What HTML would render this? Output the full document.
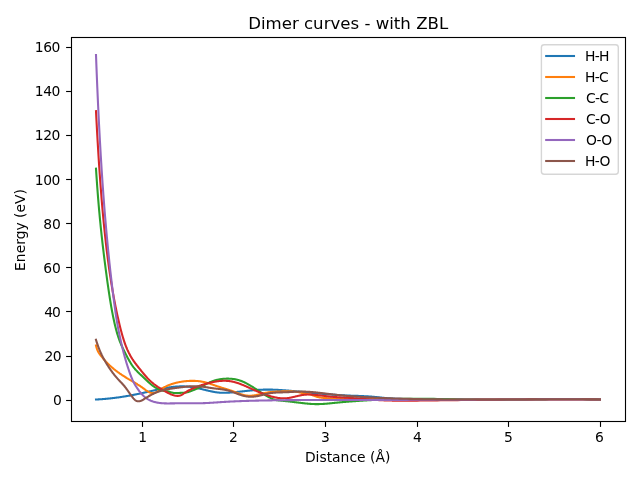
<!DOCTYPE html>
<html lang="en"><head><meta charset="utf-8"><title>Dimer curves - with ZBL</title>
<style>html,body{margin:0;padding:0;background:#fff;width:640px;height:480px;overflow:hidden}svg{display:block}text{font-family:'DejaVu Sans', 'Liberation Sans', sans-serif;fill:#000}</style></head><body>
<svg width="640" height="480" viewBox="0 0 640 480">
<rect x="0" y="0" width="640" height="480" fill="#fff"/>
<g fill="none" stroke-width="2.083" stroke-linecap="square" stroke-linejoin="round">
<path d="M96.00 399.51 L96.43 399.49 L96.87 399.47 L97.30 399.44 L97.74 399.42 L98.17 399.39 L98.61 399.37 L99.04 399.34 L99.48 399.32 L99.91 399.29 L100.35 399.26 L100.78 399.23 L101.22 399.20 L101.65 399.17 L102.09 399.14 L102.52 399.10 L102.96 399.07 L103.39 399.04 L103.83 399.00 L104.26 398.97 L104.70 398.93 L105.13 398.89 L105.57 398.85 L106.00 398.82 L106.44 398.78 L106.87 398.73 L107.31 398.69 L107.74 398.65 L108.18 398.61 L108.61 398.57 L109.05 398.52 L109.48 398.48 L109.92 398.43 L110.35 398.38 L110.79 398.34 L111.22 398.29 L111.66 398.24 L112.09 398.19 L112.53 398.14 L112.96 398.09 L113.40 398.04 L113.83 397.98 L114.27 397.93 L114.70 397.88 L115.14 397.82 L115.57 397.77 L116.01 397.71 L116.44 397.65 L116.88 397.59 L117.31 397.54 L117.75 397.48 L118.18 397.42 L118.62 397.36 L119.05 397.29 L119.48 397.23 L119.92 397.17 L120.35 397.11 L120.79 397.04 L121.22 396.98 L121.66 396.91 L122.09 396.84 L122.53 396.78 L122.96 396.71 L123.40 396.64 L123.83 396.57 L124.27 396.50 L124.70 396.43 L125.14 396.36 L125.57 396.29 L126.01 396.21 L126.44 396.14 L126.88 396.07 L127.31 395.99 L127.75 395.92 L128.18 395.84 L128.62 395.76 L129.05 395.69 L129.49 395.61 L129.92 395.53 L130.36 395.45 L130.79 395.37 L131.23 395.29 L131.66 395.21 L132.10 395.13 L132.53 395.04 L132.97 394.96 L133.40 394.88 L133.84 394.79 L134.27 394.71 L134.71 394.62 L135.14 394.54 L135.58 394.45 L136.01 394.36 L136.45 394.28 L136.88 394.19 L137.32 394.10 L137.75 394.01 L138.19 393.92 L138.62 393.83 L139.06 393.74 L139.49 393.65 L139.93 393.56 L140.36 393.47 L140.80 393.37 L141.23 393.28 L141.67 393.19 L142.10 393.09 L142.54 393.00 L142.97 392.90 L143.40 392.81 L143.84 392.71 L144.27 392.62 L144.71 392.52 L145.14 392.43 L145.58 392.33 L146.01 392.23 L146.45 392.13 L146.88 392.04 L147.32 391.94 L147.75 391.84 L148.19 391.74 L148.62 391.64 L149.06 391.55 L149.49 391.45 L149.93 391.35 L150.36 391.25 L150.80 391.15 L151.23 391.05 L151.67 390.95 L152.10 390.85 L152.54 390.75 L152.97 390.66 L153.41 390.56 L153.84 390.46 L154.28 390.36 L154.71 390.26 L155.15 390.17 L155.58 390.07 L156.02 389.97 L156.45 389.87 L156.89 389.78 L157.32 389.68 L157.76 389.59 L158.19 389.49 L158.63 389.40 L159.06 389.31 L159.50 389.21 L159.93 389.12 L160.37 389.03 L160.80 388.94 L161.24 388.85 L161.67 388.76 L162.11 388.67 L162.54 388.59 L162.98 388.50 L163.41 388.42 L163.85 388.33 L164.28 388.25 L164.72 388.17 L165.15 388.09 L165.59 388.01 L166.02 387.93 L166.45 387.85 L166.89 387.78 L167.32 387.71 L167.76 387.63 L168.19 387.56 L168.63 387.49 L169.06 387.43 L169.50 387.36 L169.93 387.30 L170.37 387.24 L170.80 387.17 L171.24 387.12 L171.67 387.06 L172.11 387.00 L172.54 386.95 L172.98 386.90 L173.41 386.85 L173.85 386.81 L174.28 386.76 L174.72 386.72 L175.15 386.68 L175.59 386.64 L176.02 386.61 L176.46 386.57 L176.89 386.54 L177.33 386.51 L177.76 386.49 L178.20 386.46 L178.63 386.44 L179.07 386.43 L179.50 386.41 L179.94 386.40 L180.37 386.39 L180.81 386.38 L181.24 386.37 L181.68 386.37 L182.11 386.37 L182.55 386.37 L182.98 386.38 L183.42 386.39 L183.85 386.40 L184.29 386.41 L184.72 386.43 L185.16 386.45 L185.59 386.47 L186.03 386.50 L186.46 386.52 L186.90 386.55 L187.33 386.59 L187.77 386.62 L188.20 386.66 L188.64 386.70 L189.07 386.74 L189.51 386.79 L189.94 386.84 L190.37 386.89 L190.81 386.95 L191.24 387.00 L191.68 387.06 L192.11 387.13 L192.55 387.19 L192.98 387.26 L193.42 387.33 L193.85 387.40 L194.29 387.48 L194.72 387.56 L195.16 387.64 L195.59 387.72 L196.03 387.81 L196.46 387.89 L196.90 387.99 L197.33 388.08 L197.77 388.17 L198.20 388.27 L198.64 388.37 L199.07 388.47 L199.51 388.57 L199.94 388.67 L200.38 388.78 L200.81 388.88 L201.25 388.99 L201.68 389.10 L202.12 389.20 L202.55 389.31 L202.99 389.42 L203.42 389.53 L203.86 389.64 L204.29 389.75 L204.73 389.85 L205.16 389.96 L205.60 390.07 L206.03 390.18 L206.47 390.28 L206.90 390.39 L207.34 390.49 L207.77 390.60 L208.21 390.70 L208.64 390.80 L209.08 390.90 L209.51 391.00 L209.95 391.09 L210.38 391.19 L210.82 391.28 L211.25 391.37 L211.69 391.46 L212.12 391.55 L212.56 391.63 L212.99 391.72 L213.42 391.80 L213.86 391.88 L214.29 391.95 L214.73 392.03 L215.16 392.10 L215.60 392.16 L216.03 392.23 L216.47 392.29 L216.90 392.35 L217.34 392.41 L217.77 392.46 L218.21 392.51 L218.64 392.55 L219.08 392.60 L219.51 392.64 L219.95 392.67 L220.38 392.70 L220.82 392.73 L221.25 392.75 L221.69 392.77 L222.12 392.79 L222.56 392.80 L222.99 392.81 L223.43 392.82 L223.86 392.82 L224.30 392.82 L224.73 392.81 L225.17 392.81 L225.60 392.80 L226.04 392.78 L226.47 392.77 L226.91 392.75 L227.34 392.73 L227.78 392.71 L228.21 392.69 L228.65 392.66 L229.08 392.63 L229.52 392.60 L229.95 392.57 L230.39 392.54 L230.82 392.50 L231.26 392.47 L231.69 392.43 L232.13 392.39 L232.56 392.36 L233.00 392.32 L233.43 392.28 L233.87 392.24 L234.30 392.20 L234.74 392.15 L235.17 392.11 L235.61 392.07 L236.04 392.03 L236.47 391.98 L236.91 391.94 L237.34 391.90 L237.78 391.85 L238.21 391.81 L238.65 391.76 L239.08 391.72 L239.52 391.67 L239.95 391.62 L240.39 391.58 L240.82 391.53 L241.26 391.49 L241.69 391.44 L242.13 391.39 L242.56 391.35 L243.00 391.30 L243.43 391.25 L243.87 391.21 L244.30 391.16 L244.74 391.11 L245.17 391.07 L245.61 391.02 L246.04 390.97 L246.48 390.93 L246.91 390.88 L247.35 390.84 L247.78 390.79 L248.22 390.75 L248.65 390.70 L249.09 390.66 L249.52 390.61 L249.96 390.57 L250.39 390.53 L250.83 390.49 L251.26 390.45 L251.70 390.40 L252.13 390.36 L252.57 390.32 L253.00 390.29 L253.44 390.25 L253.87 390.21 L254.31 390.17 L254.74 390.14 L255.18 390.10 L255.61 390.07 L256.05 390.03 L256.48 390.00 L256.92 389.97 L257.35 389.94 L257.79 389.91 L258.22 389.88 L258.66 389.86 L259.09 389.83 L259.53 389.81 L259.96 389.78 L260.39 389.76 L260.83 389.74 L261.26 389.72 L261.70 389.70 L262.13 389.68 L262.57 389.67 L263.00 389.66 L263.44 389.64 L263.87 389.63 L264.31 389.62 L264.74 389.61 L265.18 389.60 L265.61 389.60 L266.05 389.59 L266.48 389.59 L266.92 389.59 L267.35 389.59 L267.79 389.59 L268.22 389.59 L268.66 389.59 L269.09 389.59 L269.53 389.60 L269.96 389.60 L270.40 389.61 L270.83 389.62 L271.27 389.63 L271.70 389.64 L272.14 389.65 L272.57 389.66 L273.01 389.67 L273.44 389.68 L273.88 389.70 L274.31 389.71 L274.75 389.73 L275.18 389.75 L275.62 389.77 L276.05 389.79 L276.49 389.81 L276.92 389.83 L277.36 389.85 L277.79 389.87 L278.23 389.90 L278.66 389.92 L279.10 389.95 L279.53 389.97 L279.97 390.00 L280.40 390.02 L280.84 390.05 L281.27 390.08 L281.71 390.11 L282.14 390.14 L282.58 390.17 L283.01 390.20 L283.44 390.23 L283.88 390.26 L284.31 390.30 L284.75 390.33 L285.18 390.36 L285.62 390.40 L286.05 390.43 L286.49 390.47 L286.92 390.50 L287.36 390.54 L287.79 390.58 L288.23 390.61 L288.66 390.65 L289.10 390.69 L289.53 390.73 L289.97 390.76 L290.40 390.80 L290.84 390.84 L291.27 390.88 L291.71 390.92 L292.14 390.96 L292.58 391.00 L293.01 391.04 L293.45 391.08 L293.88 391.12 L294.32 391.16 L294.75 391.20 L295.19 391.24 L295.62 391.28 L296.06 391.32 L296.49 391.36 L296.93 391.41 L297.36 391.45 L297.80 391.49 L298.23 391.53 L298.67 391.57 L299.10 391.61 L299.54 391.66 L299.97 391.70 L300.41 391.74 L300.84 391.78 L301.28 391.83 L301.71 391.87 L302.15 391.91 L302.58 391.95 L303.02 392.00 L303.45 392.04 L303.89 392.08 L304.32 392.13 L304.76 392.17 L305.19 392.21 L305.63 392.25 L306.06 392.30 L306.49 392.34 L306.93 392.38 L307.36 392.42 L307.80 392.47 L308.23 392.51 L308.67 392.55 L309.10 392.59 L309.54 392.64 L309.97 392.68 L310.41 392.72 L310.84 392.76 L311.28 392.81 L311.71 392.85 L312.15 392.89 L312.58 392.93 L313.02 392.97 L313.45 393.02 L313.89 393.06 L314.32 393.10 L314.76 393.14 L315.19 393.18 L315.63 393.22 L316.06 393.26 L316.50 393.30 L316.93 393.34 L317.37 393.38 L317.80 393.42 L318.24 393.46 L318.67 393.50 L319.11 393.54 L319.54 393.58 L319.98 393.62 L320.41 393.66 L320.85 393.70 L321.28 393.74 L321.72 393.78 L322.15 393.82 L322.59 393.85 L323.02 393.89 L323.46 393.93 L323.89 393.97 L324.33 394.00 L324.76 394.04 L325.20 394.08 L325.63 394.11 L326.07 394.15 L326.50 394.19 L326.94 394.22 L327.37 394.26 L327.81 394.29 L328.24 394.33 L328.68 394.36 L329.11 394.40 L329.55 394.43 L329.98 394.46 L330.41 394.50 L330.85 394.53 L331.28 394.56 L331.72 394.60 L332.15 394.63 L332.59 394.66 L333.02 394.69 L333.46 394.72 L333.89 394.75 L334.33 394.79 L334.76 394.82 L335.20 394.85 L335.63 394.88 L336.07 394.90 L336.50 394.93 L336.94 394.96 L337.37 394.99 L337.81 395.02 L338.24 395.05 L338.68 395.07 L339.11 395.10 L339.55 395.13 L339.98 395.15 L340.42 395.18 L340.85 395.20 L341.29 395.23 L341.72 395.25 L342.16 395.28 L342.59 395.30 L343.03 395.32 L343.46 395.35 L343.90 395.37 L344.33 395.39 L344.77 395.41 L345.20 395.43 L345.64 395.45 L346.07 395.47 L346.51 395.49 L346.94 395.51 L347.38 395.53 L347.81 395.55 L348.25 395.57 L348.68 395.59 L349.12 395.60 L349.55 395.62 L349.99 395.64 L350.42 395.65 L350.86 395.67 L351.29 395.68 L351.73 395.70 L352.16 395.71 L352.60 395.73 L353.03 395.74 L353.46 395.76 L353.90 395.77 L354.33 395.78 L354.77 395.80 L355.20 395.81 L355.64 395.83 L356.07 395.84 L356.51 395.85 L356.94 395.87 L357.38 395.88 L357.81 395.90 L358.25 395.91 L358.68 395.93 L359.12 395.94 L359.55 395.96 L359.99 395.97 L360.42 395.99 L360.86 396.01 L361.29 396.02 L361.73 396.04 L362.16 396.06 L362.60 396.08 L363.03 396.10 L363.47 396.12 L363.90 396.15 L364.34 396.17 L364.77 396.19 L365.21 396.21 L365.64 396.24 L366.08 396.26 L366.51 396.29 L366.95 396.32 L367.38 396.35 L367.82 396.37 L368.25 396.40 L368.69 396.43 L369.12 396.46 L369.56 396.49 L369.99 396.53 L370.43 396.56 L370.86 396.59 L371.30 396.63 L371.73 396.66 L372.17 396.70 L372.60 396.73 L373.04 396.77 L373.47 396.81 L373.91 396.85 L374.34 396.89 L374.78 396.93 L375.21 396.97 L375.65 397.01 L376.08 397.05 L376.52 397.10 L376.95 397.14 L377.38 397.18 L377.82 397.23 L378.25 397.27 L378.69 397.32 L379.12 397.36 L379.56 397.41 L379.99 397.45 L380.43 397.50 L380.86 397.54 L381.30 397.59 L381.73 397.63 L382.17 397.68 L382.60 397.72 L383.04 397.77 L383.47 397.81 L383.91 397.85 L384.34 397.90 L384.78 397.94 L385.21 397.98 L385.65 398.02 L386.08 398.06 L386.52 398.10 L386.95 398.13 L387.39 398.17 L387.82 398.21 L388.26 398.24 L388.69 398.27 L389.13 398.31 L389.56 398.34 L390.00 398.37 L390.43 398.40 L390.87 398.43 L391.30 398.46 L391.74 398.49 L392.17 398.51 L392.61 398.54 L393.04 398.56 L393.48 398.59 L393.91 398.61 L394.35 398.63 L394.78 398.66 L395.22 398.68 L395.65 398.70 L396.09 398.72 L396.52 398.74 L396.96 398.76 L397.39 398.78 L397.83 398.79 L398.26 398.81 L398.70 398.83 L399.13 398.84 L399.57 398.86 L400.00 398.88 L403.39 398.98 L406.78 399.07 L410.16 399.14 L413.55 399.20 L416.94 399.26 L420.33 399.31 L423.72 399.36 L427.11 399.41 L430.49 399.44 L433.88 399.48 L437.27 399.51 L440.66 399.53 L444.05 399.55 L447.43 399.57 L450.82 399.58 L454.21 399.59 L457.60 399.60 L460.99 399.60 L464.37 399.61 L467.76 399.60 L471.15 399.60 L474.54 399.60 L477.93 399.59 L481.32 399.58 L484.70 399.57 L488.09 399.55 L491.48 399.54 L494.87 399.52 L498.26 399.51 L501.64 399.49 L505.03 399.47 L508.42 399.45 L511.81 399.43 L515.20 399.41 L518.58 399.39 L521.97 399.38 L525.36 399.36 L528.75 399.34 L532.14 399.32 L535.53 399.31 L538.91 399.29 L542.30 399.28 L545.69 399.27 L549.08 399.26 L552.47 399.25 L555.85 399.25 L559.24 399.24 L562.63 399.24 L566.02 399.25 L569.41 399.25 L572.79 399.26 L576.18 399.27 L579.57 399.29 L582.96 399.30 L586.35 399.33 L589.74 399.35 L593.12 399.38 L596.51 399.42 L599.90 399.46" stroke="#1f77b4"/>
<path d="M96.00 345.61 L96.43 347.24 L96.87 348.64 L97.30 349.84 L97.74 350.88 L98.17 351.78 L98.61 352.57 L99.04 353.27 L99.48 353.90 L99.91 354.48 L100.35 355.04 L100.78 355.58 L101.22 356.12 L101.65 356.66 L102.09 357.19 L102.52 357.71 L102.96 358.22 L103.39 358.73 L103.83 359.24 L104.26 359.73 L104.70 360.22 L105.13 360.71 L105.57 361.18 L106.00 361.65 L106.44 362.11 L106.87 362.57 L107.31 363.02 L107.74 363.46 L108.18 363.89 L108.61 364.32 L109.05 364.74 L109.48 365.16 L109.92 365.57 L110.35 365.97 L110.79 366.36 L111.22 366.75 L111.66 367.14 L112.09 367.52 L112.53 367.89 L112.96 368.26 L113.40 368.63 L113.83 368.99 L114.27 369.34 L114.70 369.69 L115.14 370.04 L115.57 370.38 L116.01 370.71 L116.44 371.05 L116.88 371.38 L117.31 371.70 L117.75 372.02 L118.18 372.34 L118.62 372.65 L119.05 372.96 L119.48 373.27 L119.92 373.57 L120.35 373.87 L120.79 374.17 L121.22 374.46 L121.66 374.75 L122.09 375.04 L122.53 375.33 L122.96 375.61 L123.40 375.89 L123.83 376.17 L124.27 376.45 L124.70 376.72 L125.14 376.99 L125.57 377.26 L126.01 377.52 L126.44 377.79 L126.88 378.05 L127.31 378.31 L127.75 378.57 L128.18 378.83 L128.62 379.08 L129.05 379.34 L129.49 379.59 L129.92 379.85 L130.36 380.10 L130.79 380.36 L131.23 380.61 L131.66 380.87 L132.10 381.12 L132.53 381.38 L132.97 381.63 L133.40 381.89 L133.84 382.15 L134.27 382.41 L134.71 382.67 L135.14 382.93 L135.58 383.19 L136.01 383.46 L136.45 383.72 L136.88 383.99 L137.32 384.26 L137.75 384.54 L138.19 384.81 L138.62 385.09 L139.06 385.37 L139.49 385.65 L139.93 385.94 L140.36 386.23 L140.80 386.52 L141.23 386.82 L141.67 387.12 L142.10 387.43 L142.54 387.74 L142.97 388.06 L143.40 388.38 L143.84 388.70 L144.27 389.02 L144.71 389.35 L145.14 389.66 L145.58 389.98 L146.01 390.29 L146.45 390.59 L146.88 390.87 L147.32 391.15 L147.75 391.42 L148.19 391.67 L148.62 391.90 L149.06 392.12 L149.49 392.32 L149.93 392.50 L150.36 392.66 L150.80 392.80 L151.23 392.92 L151.67 393.01 L152.10 393.07 L152.54 393.11 L152.97 393.12 L153.41 393.10 L153.84 393.05 L154.28 392.96 L154.71 392.84 L155.15 392.69 L155.58 392.51 L156.02 392.30 L156.45 392.08 L156.89 391.83 L157.32 391.57 L157.76 391.29 L158.19 391.01 L158.63 390.72 L159.06 390.43 L159.50 390.13 L159.93 389.85 L160.37 389.56 L160.80 389.29 L161.24 389.02 L161.67 388.75 L162.11 388.49 L162.54 388.23 L162.98 387.98 L163.41 387.73 L163.85 387.49 L164.28 387.26 L164.72 387.03 L165.15 386.81 L165.59 386.59 L166.02 386.38 L166.45 386.17 L166.89 385.97 L167.32 385.77 L167.76 385.58 L168.19 385.40 L168.63 385.22 L169.06 385.04 L169.50 384.87 L169.93 384.71 L170.37 384.55 L170.80 384.39 L171.24 384.24 L171.67 384.10 L172.11 383.95 L172.54 383.82 L172.98 383.68 L173.41 383.55 L173.85 383.43 L174.28 383.30 L174.72 383.18 L175.15 383.07 L175.59 382.96 L176.02 382.85 L176.46 382.74 L176.89 382.63 L177.33 382.53 L177.76 382.44 L178.20 382.34 L178.63 382.25 L179.07 382.16 L179.50 382.07 L179.94 381.99 L180.37 381.91 L180.81 381.84 L181.24 381.76 L181.68 381.69 L182.11 381.62 L182.55 381.56 L182.98 381.50 L183.42 381.44 L183.85 381.38 L184.29 381.33 L184.72 381.28 L185.16 381.23 L185.59 381.19 L186.03 381.15 L186.46 381.11 L186.90 381.07 L187.33 381.04 L187.77 381.01 L188.20 380.98 L188.64 380.96 L189.07 380.93 L189.51 380.91 L189.94 380.90 L190.37 380.88 L190.81 380.87 L191.24 380.86 L191.68 380.85 L192.11 380.85 L192.55 380.85 L192.98 380.85 L193.42 380.86 L193.85 380.86 L194.29 380.87 L194.72 380.89 L195.16 380.91 L195.59 380.93 L196.03 380.95 L196.46 380.98 L196.90 381.01 L197.33 381.04 L197.77 381.08 L198.20 381.12 L198.64 381.17 L199.07 381.22 L199.51 381.27 L199.94 381.33 L200.38 381.39 L200.81 381.46 L201.25 381.53 L201.68 381.60 L202.12 381.68 L202.55 381.76 L202.99 381.84 L203.42 381.93 L203.86 382.03 L204.29 382.12 L204.73 382.23 L205.16 382.33 L205.60 382.44 L206.03 382.56 L206.47 382.68 L206.90 382.80 L207.34 382.93 L207.77 383.06 L208.21 383.19 L208.64 383.32 L209.08 383.46 L209.51 383.60 L209.95 383.74 L210.38 383.89 L210.82 384.03 L211.25 384.18 L211.69 384.33 L212.12 384.48 L212.56 384.63 L212.99 384.78 L213.42 384.93 L213.86 385.08 L214.29 385.23 L214.73 385.38 L215.16 385.53 L215.60 385.68 L216.03 385.83 L216.47 385.98 L216.90 386.12 L217.34 386.27 L217.77 386.41 L218.21 386.55 L218.64 386.69 L219.08 386.83 L219.51 386.97 L219.95 387.11 L220.38 387.24 L220.82 387.38 L221.25 387.51 L221.69 387.64 L222.12 387.78 L222.56 387.91 L222.99 388.04 L223.43 388.17 L223.86 388.31 L224.30 388.44 L224.73 388.57 L225.17 388.70 L225.60 388.84 L226.04 388.97 L226.47 389.11 L226.91 389.25 L227.34 389.39 L227.78 389.52 L228.21 389.67 L228.65 389.81 L229.08 389.95 L229.52 390.10 L229.95 390.24 L230.39 390.39 L230.82 390.54 L231.26 390.70 L231.69 390.85 L232.13 391.01 L232.56 391.17 L233.00 391.33 L233.43 391.49 L233.87 391.66 L234.30 391.82 L234.74 391.99 L235.17 392.16 L235.61 392.33 L236.04 392.50 L236.47 392.66 L236.91 392.83 L237.34 392.99 L237.78 393.16 L238.21 393.32 L238.65 393.47 L239.08 393.63 L239.52 393.78 L239.95 393.93 L240.39 394.07 L240.82 394.21 L241.26 394.35 L241.69 394.48 L242.13 394.61 L242.56 394.73 L243.00 394.84 L243.43 394.95 L243.87 395.06 L244.30 395.16 L244.74 395.25 L245.17 395.33 L245.61 395.41 L246.04 395.48 L246.48 395.55 L246.91 395.60 L247.35 395.65 L247.78 395.69 L248.22 395.73 L248.65 395.75 L249.09 395.77 L249.52 395.77 L249.96 395.77 L250.39 395.76 L250.83 395.75 L251.26 395.72 L251.70 395.69 L252.13 395.65 L252.57 395.61 L253.00 395.56 L253.44 395.50 L253.87 395.44 L254.31 395.37 L254.74 395.30 L255.18 395.23 L255.61 395.15 L256.05 395.06 L256.48 394.97 L256.92 394.88 L257.35 394.79 L257.79 394.69 L258.22 394.59 L258.66 394.49 L259.09 394.38 L259.53 394.28 L259.96 394.17 L260.39 394.06 L260.83 393.95 L261.26 393.84 L261.70 393.74 L262.13 393.63 L262.57 393.52 L263.00 393.42 L263.44 393.32 L263.87 393.22 L264.31 393.12 L264.74 393.03 L265.18 392.94 L265.61 392.85 L266.05 392.77 L266.48 392.68 L266.92 392.61 L267.35 392.53 L267.79 392.46 L268.22 392.40 L268.66 392.33 L269.09 392.27 L269.53 392.21 L269.96 392.15 L270.40 392.10 L270.83 392.05 L271.27 392.00 L271.70 391.96 L272.14 391.91 L272.57 391.87 L273.01 391.84 L273.44 391.80 L273.88 391.76 L274.31 391.73 L274.75 391.70 L275.18 391.67 L275.62 391.65 L276.05 391.62 L276.49 391.60 L276.92 391.57 L277.36 391.55 L277.79 391.53 L278.23 391.51 L278.66 391.50 L279.10 391.48 L279.53 391.46 L279.97 391.45 L280.40 391.43 L280.84 391.42 L281.27 391.41 L281.71 391.39 L282.14 391.38 L282.58 391.37 L283.01 391.35 L283.44 391.34 L283.88 391.33 L284.31 391.31 L284.75 391.30 L285.18 391.29 L285.62 391.28 L286.05 391.27 L286.49 391.27 L286.92 391.26 L287.36 391.26 L287.79 391.25 L288.23 391.25 L288.66 391.26 L289.10 391.26 L289.53 391.26 L289.97 391.27 L290.40 391.28 L290.84 391.30 L291.27 391.32 L291.71 391.34 L292.14 391.36 L292.58 391.39 L293.01 391.42 L293.45 391.45 L293.88 391.49 L294.32 391.53 L294.75 391.57 L295.19 391.62 L295.62 391.68 L296.06 391.74 L296.49 391.80 L296.93 391.87 L297.36 391.94 L297.80 392.02 L298.23 392.10 L298.67 392.19 L299.10 392.28 L299.54 392.38 L299.97 392.48 L300.41 392.59 L300.84 392.70 L301.28 392.81 L301.71 392.93 L302.15 393.04 L302.58 393.15 L303.02 393.26 L303.45 393.37 L303.89 393.46 L304.32 393.56 L304.76 393.64 L305.19 393.71 L305.63 393.78 L306.06 393.84 L306.49 393.89 L306.93 393.95 L307.36 394.00 L307.80 394.05 L308.23 394.11 L308.67 394.18 L309.10 394.25 L309.54 394.33 L309.97 394.43 L310.41 394.54 L310.84 394.67 L311.28 394.80 L311.71 394.94 L312.15 395.09 L312.58 395.25 L313.02 395.41 L313.45 395.57 L313.89 395.73 L314.32 395.89 L314.76 396.05 L315.19 396.21 L315.63 396.35 L316.06 396.50 L316.50 396.63 L316.93 396.76 L317.37 396.88 L317.80 396.99 L318.24 397.09 L318.67 397.19 L319.11 397.28 L319.54 397.36 L319.98 397.44 L320.41 397.52 L320.85 397.59 L321.28 397.65 L321.72 397.71 L322.15 397.76 L322.59 397.82 L323.02 397.86 L323.46 397.91 L323.89 397.95 L324.33 397.99 L324.76 398.02 L325.20 398.05 L325.63 398.09 L326.07 398.11 L326.50 398.14 L326.94 398.17 L327.37 398.19 L327.81 398.21 L328.24 398.23 L328.68 398.25 L329.11 398.27 L329.55 398.29 L329.98 398.31 L330.41 398.33 L330.85 398.35 L331.28 398.37 L331.72 398.38 L332.15 398.40 L332.59 398.42 L333.02 398.43 L333.46 398.45 L333.89 398.46 L334.33 398.48 L334.76 398.49 L335.20 398.50 L335.63 398.52 L336.07 398.53 L336.50 398.54 L336.94 398.56 L337.37 398.57 L337.81 398.58 L338.24 398.59 L338.68 398.60 L339.11 398.61 L339.55 398.62 L339.98 398.63 L340.42 398.64 L340.85 398.65 L341.29 398.66 L341.72 398.67 L342.16 398.68 L342.59 398.69 L343.03 398.70 L343.46 398.70 L343.90 398.71 L344.33 398.72 L344.77 398.73 L345.20 398.73 L345.64 398.74 L346.07 398.75 L346.51 398.76 L346.94 398.76 L347.38 398.77 L347.81 398.78 L348.25 398.78 L348.68 398.79 L349.12 398.80 L349.55 398.80 L349.99 398.81 L350.42 398.81 L350.86 398.82 L351.29 398.83 L351.73 398.83 L352.16 398.84 L352.60 398.84 L353.03 398.85 L353.46 398.86 L353.90 398.86 L354.33 398.87 L354.77 398.87 L355.20 398.88 L355.64 398.88 L356.07 398.89 L356.51 398.89 L356.94 398.90 L357.38 398.90 L357.81 398.91 L358.25 398.91 L358.68 398.92 L359.12 398.92 L359.55 398.93 L359.99 398.93 L360.42 398.94 L360.86 398.94 L361.29 398.95 L361.73 398.95 L362.16 398.96 L362.60 398.96 L363.03 398.97 L363.47 398.97 L363.90 398.98 L364.34 398.98 L364.77 398.99 L365.21 398.99 L365.64 398.99 L366.08 399.00 L366.51 399.00 L366.95 399.01 L367.38 399.01 L367.82 399.01 L368.25 399.02 L368.69 399.02 L369.12 399.03 L369.56 399.03 L369.99 399.03 L370.43 399.04 L370.86 399.04 L371.30 399.05 L371.73 399.05 L372.17 399.05 L372.60 399.06 L373.04 399.06 L373.47 399.06 L373.91 399.07 L374.34 399.07 L374.78 399.07 L375.21 399.08 L375.65 399.08 L376.08 399.08 L376.52 399.09 L376.95 399.09 L377.38 399.09 L377.82 399.10 L378.25 399.10 L378.69 399.10 L379.12 399.11 L379.56 399.11 L379.99 399.11 L380.43 399.12 L380.86 399.12 L381.30 399.12 L381.73 399.12 L382.17 399.13 L382.60 399.13 L383.04 399.13 L383.47 399.14 L383.91 399.14 L384.34 399.14 L384.78 399.14 L385.21 399.15 L385.65 399.15 L386.08 399.15 L386.52 399.15 L386.95 399.16 L387.39 399.16 L387.82 399.16 L388.26 399.16 L388.69 399.17 L389.13 399.17 L389.56 399.17 L390.00 399.17 L390.43 399.18 L390.87 399.18 L391.30 399.18 L391.74 399.18 L392.17 399.19 L392.61 399.19 L393.04 399.19 L393.48 399.19 L393.91 399.19 L394.35 399.20 L394.78 399.20 L395.22 399.20 L395.65 399.20 L396.09 399.21 L396.52 399.21 L396.96 399.21 L397.39 399.21 L397.83 399.21 L398.26 399.22 L398.70 399.22 L399.13 399.22 L399.57 399.22 L400.00 399.22 L403.39 399.24 L406.78 399.25 L410.16 399.26 L413.55 399.28 L416.94 399.29 L420.33 399.30 L423.72 399.31 L427.11 399.32 L430.49 399.33 L433.88 399.33 L437.27 399.34 L440.66 399.35 L444.05 399.35 L447.43 399.36 L450.82 399.36 L454.21 399.37 L457.60 399.37 L460.99 399.37 L464.37 399.38 L467.76 399.38 L471.15 399.38 L474.54 399.38 L477.93 399.39 L481.32 399.39 L484.70 399.39 L488.09 399.39 L491.48 399.39 L494.87 399.39 L498.26 399.39 L501.64 399.39 L505.03 399.39 L508.42 399.39 L511.81 399.39 L515.20 399.39 L518.58 399.39 L521.97 399.39 L525.36 399.39 L528.75 399.39 L532.14 399.39 L535.53 399.39 L538.91 399.39 L542.30 399.39 L545.69 399.40 L549.08 399.40 L552.47 399.40 L555.85 399.40 L559.24 399.40 L562.63 399.40 L566.02 399.41 L569.41 399.41 L572.79 399.41 L576.18 399.42 L579.57 399.42 L582.96 399.43 L586.35 399.43 L589.74 399.44 L593.12 399.44 L596.51 399.45 L599.90 399.46" stroke="#ff7f0e"/>
<path d="M96.00 168.70 L96.43 175.34 L96.87 181.65 L97.30 187.65 L97.74 193.37 L98.17 198.84 L98.61 204.07 L99.04 209.09 L99.48 213.91 L99.91 218.54 L100.35 223.01 L100.78 227.33 L101.22 231.51 L101.65 235.56 L102.09 239.50 L102.52 243.34 L102.96 247.08 L103.39 250.74 L103.83 254.32 L104.26 257.83 L104.70 261.29 L105.13 264.69 L105.57 268.04 L106.00 271.35 L106.44 274.62 L106.87 277.85 L107.31 281.02 L107.74 284.14 L108.18 287.19 L108.61 290.18 L109.05 293.10 L109.48 295.95 L109.92 298.72 L110.35 301.41 L110.79 304.03 L111.22 306.56 L111.66 309.01 L112.09 311.38 L112.53 313.66 L112.96 315.86 L113.40 317.99 L113.83 320.04 L114.27 322.01 L114.70 323.91 L115.14 325.74 L115.57 327.50 L116.01 329.19 L116.44 330.81 L116.88 332.36 L117.31 333.86 L117.75 335.28 L118.18 336.65 L118.62 337.96 L119.05 339.21 L119.48 340.40 L119.92 341.55 L120.35 342.65 L120.79 343.71 L121.22 344.73 L121.66 345.72 L122.09 346.69 L122.53 347.63 L122.96 348.55 L123.40 349.45 L123.83 350.33 L124.27 351.21 L124.70 352.07 L125.14 352.93 L125.57 353.79 L126.01 354.64 L126.44 355.49 L126.88 356.32 L127.31 357.15 L127.75 357.97 L128.18 358.78 L128.62 359.57 L129.05 360.35 L129.49 361.11 L129.92 361.85 L130.36 362.58 L130.79 363.28 L131.23 363.97 L131.66 364.64 L132.10 365.28 L132.53 365.90 L132.97 366.50 L133.40 367.08 L133.84 367.64 L134.27 368.18 L134.71 368.70 L135.14 369.20 L135.58 369.69 L136.01 370.16 L136.45 370.63 L136.88 371.08 L137.32 371.53 L137.75 371.96 L138.19 372.39 L138.62 372.81 L139.06 373.23 L139.49 373.65 L139.93 374.06 L140.36 374.46 L140.80 374.87 L141.23 375.28 L141.67 375.69 L142.10 376.09 L142.54 376.50 L142.97 376.92 L143.40 377.33 L143.84 377.75 L144.27 378.17 L144.71 378.59 L145.14 379.01 L145.58 379.43 L146.01 379.85 L146.45 380.26 L146.88 380.67 L147.32 381.08 L147.75 381.49 L148.19 381.89 L148.62 382.29 L149.06 382.68 L149.49 383.06 L149.93 383.44 L150.36 383.81 L150.80 384.18 L151.23 384.54 L151.67 384.89 L152.10 385.23 L152.54 385.56 L152.97 385.89 L153.41 386.20 L153.84 386.51 L154.28 386.81 L154.71 387.10 L155.15 387.38 L155.58 387.65 L156.02 387.91 L156.45 388.16 L156.89 388.40 L157.32 388.63 L157.76 388.85 L158.19 389.06 L158.63 389.26 L159.06 389.45 L159.50 389.63 L159.93 389.80 L160.37 389.96 L160.80 390.10 L161.24 390.24 L161.67 390.37 L162.11 390.48 L162.54 390.58 L162.98 390.68 L163.41 390.76 L163.85 390.83 L164.28 390.89 L164.72 390.95 L165.15 391.01 L165.59 391.06 L166.02 391.12 L166.45 391.17 L166.89 391.24 L167.32 391.31 L167.76 391.39 L168.19 391.48 L168.63 391.59 L169.06 391.71 L169.50 391.84 L169.93 391.98 L170.37 392.12 L170.80 392.26 L171.24 392.40 L171.67 392.52 L172.11 392.63 L172.54 392.73 L172.98 392.81 L173.41 392.88 L173.85 392.93 L174.28 392.98 L174.72 393.01 L175.15 393.03 L175.59 393.05 L176.02 393.05 L176.46 393.05 L176.89 393.05 L177.33 393.03 L177.76 393.02 L178.20 393.00 L178.63 392.97 L179.07 392.95 L179.50 392.92 L179.94 392.89 L180.37 392.87 L180.81 392.84 L181.24 392.82 L181.68 392.80 L182.11 392.78 L182.55 392.76 L182.98 392.74 L183.42 392.72 L183.85 392.70 L184.29 392.67 L184.72 392.64 L185.16 392.60 L185.59 392.55 L186.03 392.50 L186.46 392.43 L186.90 392.35 L187.33 392.26 L187.77 392.15 L188.20 392.03 L188.64 391.89 L189.07 391.75 L189.51 391.60 L189.94 391.45 L190.37 391.29 L190.81 391.13 L191.24 390.97 L191.68 390.81 L192.11 390.64 L192.55 390.47 L192.98 390.30 L193.42 390.13 L193.85 389.96 L194.29 389.78 L194.72 389.60 L195.16 389.42 L195.59 389.23 L196.03 389.05 L196.46 388.86 L196.90 388.67 L197.33 388.47 L197.77 388.27 L198.20 388.07 L198.64 387.87 L199.07 387.66 L199.51 387.45 L199.94 387.24 L200.38 387.03 L200.81 386.81 L201.25 386.59 L201.68 386.36 L202.12 386.14 L202.55 385.91 L202.99 385.69 L203.42 385.46 L203.86 385.23 L204.29 385.01 L204.73 384.78 L205.16 384.55 L205.60 384.33 L206.03 384.10 L206.47 383.88 L206.90 383.66 L207.34 383.45 L207.77 383.23 L208.21 383.02 L208.64 382.82 L209.08 382.62 L209.51 382.42 L209.95 382.23 L210.38 382.05 L210.82 381.87 L211.25 381.69 L211.69 381.52 L212.12 381.36 L212.56 381.20 L212.99 381.04 L213.42 380.89 L213.86 380.75 L214.29 380.61 L214.73 380.47 L215.16 380.34 L215.60 380.22 L216.03 380.10 L216.47 379.98 L216.90 379.88 L217.34 379.77 L217.77 379.67 L218.21 379.58 L218.64 379.49 L219.08 379.40 L219.51 379.32 L219.95 379.25 L220.38 379.18 L220.82 379.11 L221.25 379.05 L221.69 379.00 L222.12 378.94 L222.56 378.90 L222.99 378.85 L223.43 378.82 L223.86 378.78 L224.30 378.75 L224.73 378.72 L225.17 378.70 L225.60 378.68 L226.04 378.67 L226.47 378.66 L226.91 378.65 L227.34 378.65 L227.78 378.65 L228.21 378.65 L228.65 378.66 L229.08 378.67 L229.52 378.69 L229.95 378.71 L230.39 378.73 L230.82 378.76 L231.26 378.79 L231.69 378.83 L232.13 378.87 L232.56 378.92 L233.00 378.97 L233.43 379.02 L233.87 379.09 L234.30 379.15 L234.74 379.22 L235.17 379.30 L235.61 379.38 L236.04 379.47 L236.47 379.57 L236.91 379.67 L237.34 379.77 L237.78 379.88 L238.21 380.00 L238.65 380.12 L239.08 380.25 L239.52 380.39 L239.95 380.53 L240.39 380.67 L240.82 380.83 L241.26 380.99 L241.69 381.15 L242.13 381.32 L242.56 381.50 L243.00 381.69 L243.43 381.88 L243.87 382.07 L244.30 382.27 L244.74 382.48 L245.17 382.69 L245.61 382.91 L246.04 383.13 L246.48 383.36 L246.91 383.59 L247.35 383.82 L247.78 384.06 L248.22 384.31 L248.65 384.55 L249.09 384.81 L249.52 385.06 L249.96 385.32 L250.39 385.58 L250.83 385.84 L251.26 386.11 L251.70 386.37 L252.13 386.64 L252.57 386.92 L253.00 387.19 L253.44 387.47 L253.87 387.75 L254.31 388.03 L254.74 388.31 L255.18 388.59 L255.61 388.87 L256.05 389.15 L256.48 389.44 L256.92 389.72 L257.35 390.00 L257.79 390.29 L258.22 390.57 L258.66 390.86 L259.09 391.14 L259.53 391.43 L259.96 391.71 L260.39 391.99 L260.83 392.27 L261.26 392.56 L261.70 392.84 L262.13 393.11 L262.57 393.39 L263.00 393.67 L263.44 393.94 L263.87 394.21 L264.31 394.48 L264.74 394.75 L265.18 395.01 L265.61 395.27 L266.05 395.53 L266.48 395.78 L266.92 396.03 L267.35 396.28 L267.79 396.53 L268.22 396.77 L268.66 397.01 L269.09 397.24 L269.53 397.47 L269.96 397.69 L270.40 397.92 L270.83 398.13 L271.27 398.34 L271.70 398.55 L272.14 398.74 L272.57 398.93 L273.01 399.11 L273.44 399.28 L273.88 399.44 L274.31 399.59 L274.75 399.73 L275.18 399.85 L275.62 399.96 L276.05 400.06 L276.49 400.15 L276.92 400.22 L277.36 400.28 L277.79 400.34 L278.23 400.39 L278.66 400.43 L279.10 400.47 L279.53 400.51 L279.97 400.55 L280.40 400.58 L280.84 400.62 L281.27 400.66 L281.71 400.70 L282.14 400.74 L282.58 400.78 L283.01 400.83 L283.44 400.87 L283.88 400.91 L284.31 400.96 L284.75 401.00 L285.18 401.05 L285.62 401.10 L286.05 401.14 L286.49 401.19 L286.92 401.24 L287.36 401.29 L287.79 401.34 L288.23 401.39 L288.66 401.44 L289.10 401.49 L289.53 401.54 L289.97 401.59 L290.40 401.64 L290.84 401.69 L291.27 401.74 L291.71 401.79 L292.14 401.84 L292.58 401.90 L293.01 401.95 L293.45 402.00 L293.88 402.05 L294.32 402.11 L294.75 402.16 L295.19 402.21 L295.62 402.27 L296.06 402.32 L296.49 402.37 L296.93 402.42 L297.36 402.48 L297.80 402.53 L298.23 402.58 L298.67 402.64 L299.10 402.69 L299.54 402.74 L299.97 402.79 L300.41 402.84 L300.84 402.90 L301.28 402.95 L301.71 403.00 L302.15 403.05 L302.58 403.10 L303.02 403.15 L303.45 403.20 L303.89 403.25 L304.32 403.30 L304.76 403.35 L305.19 403.40 L305.63 403.44 L306.06 403.49 L306.49 403.53 L306.93 403.57 L307.36 403.62 L307.80 403.66 L308.23 403.70 L308.67 403.73 L309.10 403.77 L309.54 403.81 L309.97 403.84 L310.41 403.87 L310.84 403.90 L311.28 403.93 L311.71 403.96 L312.15 403.98 L312.58 404.01 L313.02 404.03 L313.45 404.05 L313.89 404.06 L314.32 404.08 L314.76 404.09 L315.19 404.10 L315.63 404.11 L316.06 404.12 L316.50 404.12 L316.93 404.12 L317.37 404.12 L317.80 404.12 L318.24 404.11 L318.67 404.11 L319.11 404.10 L319.54 404.08 L319.98 404.07 L320.41 404.06 L320.85 404.04 L321.28 404.02 L321.72 404.00 L322.15 403.98 L322.59 403.95 L323.02 403.93 L323.46 403.90 L323.89 403.87 L324.33 403.84 L324.76 403.81 L325.20 403.78 L325.63 403.74 L326.07 403.71 L326.50 403.67 L326.94 403.63 L327.37 403.59 L327.81 403.56 L328.24 403.52 L328.68 403.47 L329.11 403.43 L329.55 403.39 L329.98 403.35 L330.41 403.30 L330.85 403.26 L331.28 403.22 L331.72 403.17 L332.15 403.13 L332.59 403.08 L333.02 403.04 L333.46 402.99 L333.89 402.95 L334.33 402.90 L334.76 402.86 L335.20 402.81 L335.63 402.77 L336.07 402.72 L336.50 402.68 L336.94 402.64 L337.37 402.60 L337.81 402.55 L338.24 402.51 L338.68 402.47 L339.11 402.43 L339.55 402.39 L339.98 402.35 L340.42 402.31 L340.85 402.27 L341.29 402.23 L341.72 402.19 L342.16 402.15 L342.59 402.12 L343.03 402.08 L343.46 402.04 L343.90 402.00 L344.33 401.97 L344.77 401.93 L345.20 401.89 L345.64 401.86 L346.07 401.82 L346.51 401.79 L346.94 401.75 L347.38 401.72 L347.81 401.68 L348.25 401.65 L348.68 401.61 L349.12 401.58 L349.55 401.55 L349.99 401.51 L350.42 401.48 L350.86 401.45 L351.29 401.41 L351.73 401.38 L352.16 401.35 L352.60 401.32 L353.03 401.29 L353.46 401.25 L353.90 401.22 L354.33 401.19 L354.77 401.16 L355.20 401.13 L355.64 401.10 L356.07 401.07 L356.51 401.03 L356.94 401.00 L357.38 400.97 L357.81 400.94 L358.25 400.91 L358.68 400.88 L359.12 400.85 L359.55 400.82 L359.99 400.79 L360.42 400.77 L360.86 400.74 L361.29 400.71 L361.73 400.68 L362.16 400.65 L362.60 400.62 L363.03 400.59 L363.47 400.57 L363.90 400.54 L364.34 400.51 L364.77 400.48 L365.21 400.46 L365.64 400.43 L366.08 400.40 L366.51 400.37 L366.95 400.35 L367.38 400.32 L367.82 400.30 L368.25 400.27 L368.69 400.24 L369.12 400.22 L369.56 400.19 L369.99 400.17 L370.43 400.14 L370.86 400.12 L371.30 400.09 L371.73 400.07 L372.17 400.05 L372.60 400.02 L373.04 400.00 L373.47 399.97 L373.91 399.95 L374.34 399.93 L374.78 399.91 L375.21 399.88 L375.65 399.86 L376.08 399.84 L376.52 399.82 L376.95 399.79 L377.38 399.77 L377.82 399.75 L378.25 399.73 L378.69 399.71 L379.12 399.69 L379.56 399.67 L379.99 399.65 L380.43 399.63 L380.86 399.61 L381.30 399.59 L381.73 399.57 L382.17 399.55 L382.60 399.53 L383.04 399.51 L383.47 399.49 L383.91 399.48 L384.34 399.46 L384.78 399.44 L385.21 399.42 L385.65 399.41 L386.08 399.39 L386.52 399.37 L386.95 399.35 L387.39 399.34 L387.82 399.32 L388.26 399.31 L388.69 399.29 L389.13 399.28 L389.56 399.26 L390.00 399.24 L390.43 399.23 L390.87 399.22 L391.30 399.20 L391.74 399.19 L392.17 399.17 L392.61 399.16 L393.04 399.15 L393.48 399.13 L393.91 399.12 L394.35 399.11 L394.78 399.10 L395.22 399.08 L395.65 399.07 L396.09 399.06 L396.52 399.05 L396.96 399.04 L397.39 399.03 L397.83 399.02 L398.26 399.00 L398.70 398.99 L399.13 398.98 L399.57 398.97 L400.00 398.96 L403.39 398.90 L406.78 398.85 L410.16 398.81 L413.55 398.78 L416.94 398.77 L420.33 398.77 L423.72 398.79 L427.11 398.81 L430.49 398.85 L433.88 398.90 L437.27 398.95 L440.66 399.01 L444.05 399.07 L447.43 399.14 L450.82 399.20 L454.21 399.27 L457.60 399.34 L460.99 399.40 L464.37 399.46 L467.76 399.52 L471.15 399.57 L474.54 399.61 L477.93 399.65 L481.32 399.67 L484.70 399.69 L488.09 399.70 L491.48 399.69 L494.87 399.69 L498.26 399.67 L501.64 399.65 L505.03 399.62 L508.42 399.58 L511.81 399.55 L515.20 399.51 L518.58 399.46 L521.97 399.41 L525.36 399.37 L528.75 399.32 L532.14 399.27 L535.53 399.22 L538.91 399.17 L542.30 399.13 L545.69 399.09 L549.08 399.05 L552.47 399.02 L555.85 398.99 L559.24 398.97 L562.63 398.95 L566.02 398.94 L569.41 398.95 L572.79 398.96 L576.18 398.98 L579.57 399.01 L582.96 399.05 L586.35 399.10 L589.74 399.17 L593.12 399.25 L596.51 399.34 L599.90 399.45" stroke="#2ca02c"/>
<path d="M96.00 111.18 L96.43 119.67 L96.87 127.83 L97.30 135.66 L97.74 143.18 L98.17 150.41 L98.61 157.37 L99.04 164.06 L99.48 170.50 L99.91 176.71 L100.35 182.68 L100.78 188.44 L101.22 194.00 L101.65 199.36 L102.09 204.54 L102.52 209.54 L102.96 214.36 L103.39 219.03 L103.83 223.55 L104.26 227.92 L104.70 232.15 L105.13 236.24 L105.57 240.21 L106.00 244.06 L106.44 247.79 L106.87 251.41 L107.31 254.92 L107.74 258.34 L108.18 261.65 L108.61 264.88 L109.05 268.01 L109.48 271.06 L109.92 274.03 L110.35 276.93 L110.79 279.74 L111.22 282.49 L111.66 285.17 L112.09 287.78 L112.53 290.33 L112.96 292.83 L113.40 295.26 L113.83 297.64 L114.27 299.96 L114.70 302.24 L115.14 304.46 L115.57 306.64 L116.01 308.78 L116.44 310.87 L116.88 312.91 L117.31 314.92 L117.75 316.89 L118.18 318.83 L118.62 320.72 L119.05 322.58 L119.48 324.41 L119.92 326.20 L120.35 327.94 L120.79 329.64 L121.22 331.30 L121.66 332.92 L122.09 334.49 L122.53 336.01 L122.96 337.49 L123.40 338.91 L123.83 340.29 L124.27 341.62 L124.70 342.90 L125.14 344.13 L125.57 345.31 L126.01 346.44 L126.44 347.53 L126.88 348.57 L127.31 349.58 L127.75 350.54 L128.18 351.47 L128.62 352.37 L129.05 353.24 L129.49 354.07 L129.92 354.88 L130.36 355.66 L130.79 356.42 L131.23 357.16 L131.66 357.88 L132.10 358.57 L132.53 359.25 L132.97 359.91 L133.40 360.56 L133.84 361.19 L134.27 361.81 L134.71 362.42 L135.14 363.02 L135.58 363.61 L136.01 364.19 L136.45 364.76 L136.88 365.32 L137.32 365.88 L137.75 366.44 L138.19 366.99 L138.62 367.54 L139.06 368.08 L139.49 368.62 L139.93 369.17 L140.36 369.71 L140.80 370.25 L141.23 370.79 L141.67 371.33 L142.10 371.87 L142.54 372.40 L142.97 372.94 L143.40 373.47 L143.84 373.99 L144.27 374.51 L144.71 375.03 L145.14 375.54 L145.58 376.04 L146.01 376.53 L146.45 377.02 L146.88 377.50 L147.32 377.97 L147.75 378.44 L148.19 378.89 L148.62 379.34 L149.06 379.77 L149.49 380.20 L149.93 380.62 L150.36 381.02 L150.80 381.42 L151.23 381.81 L151.67 382.18 L152.10 382.55 L152.54 382.92 L152.97 383.27 L153.41 383.62 L153.84 383.96 L154.28 384.29 L154.71 384.62 L155.15 384.94 L155.58 385.25 L156.02 385.56 L156.45 385.87 L156.89 386.17 L157.32 386.47 L157.76 386.76 L158.19 387.05 L158.63 387.33 L159.06 387.61 L159.50 387.89 L159.93 388.16 L160.37 388.44 L160.80 388.71 L161.24 388.97 L161.67 389.24 L162.11 389.50 L162.54 389.76 L162.98 390.02 L163.41 390.27 L163.85 390.53 L164.28 390.78 L164.72 391.04 L165.15 391.29 L165.59 391.54 L166.02 391.79 L166.45 392.03 L166.89 392.28 L167.32 392.52 L167.76 392.76 L168.19 392.99 L168.63 393.22 L169.06 393.44 L169.50 393.66 L169.93 393.86 L170.37 394.07 L170.80 394.26 L171.24 394.44 L171.67 394.62 L172.11 394.79 L172.54 394.94 L172.98 395.09 L173.41 395.22 L173.85 395.35 L174.28 395.46 L174.72 395.56 L175.15 395.65 L175.59 395.73 L176.02 395.79 L176.46 395.84 L176.89 395.88 L177.33 395.89 L177.76 395.89 L178.20 395.87 L178.63 395.83 L179.07 395.77 L179.50 395.68 L179.94 395.58 L180.37 395.44 L180.81 395.28 L181.24 395.09 L181.68 394.86 L182.11 394.61 L182.55 394.34 L182.98 394.06 L183.42 393.76 L183.85 393.47 L184.29 393.17 L184.72 392.89 L185.16 392.60 L185.59 392.33 L186.03 392.05 L186.46 391.78 L186.90 391.52 L187.33 391.26 L187.77 391.01 L188.20 390.76 L188.64 390.51 L189.07 390.28 L189.51 390.04 L189.94 389.81 L190.37 389.59 L190.81 389.37 L191.24 389.16 L191.68 388.95 L192.11 388.74 L192.55 388.54 L192.98 388.35 L193.42 388.16 L193.85 387.97 L194.29 387.79 L194.72 387.61 L195.16 387.43 L195.59 387.26 L196.03 387.09 L196.46 386.93 L196.90 386.77 L197.33 386.61 L197.77 386.45 L198.20 386.29 L198.64 386.14 L199.07 385.99 L199.51 385.84 L199.94 385.69 L200.38 385.54 L200.81 385.40 L201.25 385.25 L201.68 385.11 L202.12 384.97 L202.55 384.83 L202.99 384.69 L203.42 384.55 L203.86 384.42 L204.29 384.29 L204.73 384.15 L205.16 384.02 L205.60 383.90 L206.03 383.77 L206.47 383.65 L206.90 383.52 L207.34 383.40 L207.77 383.29 L208.21 383.17 L208.64 383.06 L209.08 382.95 L209.51 382.84 L209.95 382.73 L210.38 382.63 L210.82 382.52 L211.25 382.42 L211.69 382.33 L212.12 382.23 L212.56 382.14 L212.99 382.05 L213.42 381.96 L213.86 381.88 L214.29 381.80 L214.73 381.72 L215.16 381.64 L215.60 381.57 L216.03 381.50 L216.47 381.43 L216.90 381.37 L217.34 381.31 L217.77 381.25 L218.21 381.19 L218.64 381.14 L219.08 381.09 L219.51 381.05 L219.95 381.01 L220.38 380.97 L220.82 380.93 L221.25 380.90 L221.69 380.87 L222.12 380.85 L222.56 380.83 L222.99 380.81 L223.43 380.80 L223.86 380.79 L224.30 380.79 L224.73 380.79 L225.17 380.80 L225.60 380.81 L226.04 380.82 L226.47 380.84 L226.91 380.86 L227.34 380.89 L227.78 380.92 L228.21 380.96 L228.65 381.00 L229.08 381.05 L229.52 381.10 L229.95 381.16 L230.39 381.22 L230.82 381.29 L231.26 381.36 L231.69 381.44 L232.13 381.53 L232.56 381.61 L233.00 381.71 L233.43 381.81 L233.87 381.91 L234.30 382.02 L234.74 382.14 L235.17 382.26 L235.61 382.38 L236.04 382.51 L236.47 382.64 L236.91 382.78 L237.34 382.92 L237.78 383.06 L238.21 383.21 L238.65 383.36 L239.08 383.52 L239.52 383.68 L239.95 383.84 L240.39 384.01 L240.82 384.17 L241.26 384.34 L241.69 384.52 L242.13 384.69 L242.56 384.87 L243.00 385.05 L243.43 385.23 L243.87 385.41 L244.30 385.60 L244.74 385.79 L245.17 385.97 L245.61 386.16 L246.04 386.35 L246.48 386.55 L246.91 386.74 L247.35 386.93 L247.78 387.13 L248.22 387.32 L248.65 387.52 L249.09 387.71 L249.52 387.91 L249.96 388.10 L250.39 388.30 L250.83 388.50 L251.26 388.69 L251.70 388.89 L252.13 389.08 L252.57 389.28 L253.00 389.47 L253.44 389.67 L253.87 389.86 L254.31 390.05 L254.74 390.25 L255.18 390.44 L255.61 390.63 L256.05 390.82 L256.48 391.00 L256.92 391.19 L257.35 391.38 L257.79 391.56 L258.22 391.74 L258.66 391.93 L259.09 392.11 L259.53 392.28 L259.96 392.46 L260.39 392.64 L260.83 392.81 L261.26 392.98 L261.70 393.16 L262.13 393.32 L262.57 393.49 L263.00 393.66 L263.44 393.82 L263.87 393.98 L264.31 394.14 L264.74 394.30 L265.18 394.46 L265.61 394.61 L266.05 394.76 L266.48 394.91 L266.92 395.06 L267.35 395.21 L267.79 395.35 L268.22 395.50 L268.66 395.64 L269.09 395.77 L269.53 395.91 L269.96 396.04 L270.40 396.17 L270.83 396.30 L271.27 396.42 L271.70 396.54 L272.14 396.66 L272.57 396.77 L273.01 396.88 L273.44 396.99 L273.88 397.09 L274.31 397.20 L274.75 397.29 L275.18 397.39 L275.62 397.47 L276.05 397.56 L276.49 397.64 L276.92 397.72 L277.36 397.79 L277.79 397.86 L278.23 397.92 L278.66 397.98 L279.10 398.04 L279.53 398.09 L279.97 398.14 L280.40 398.18 L280.84 398.22 L281.27 398.25 L281.71 398.28 L282.14 398.30 L282.58 398.31 L283.01 398.33 L283.44 398.33 L283.88 398.33 L284.31 398.33 L284.75 398.31 L285.18 398.30 L285.62 398.27 L286.05 398.24 L286.49 398.21 L286.92 398.17 L287.36 398.12 L287.79 398.06 L288.23 398.01 L288.66 397.94 L289.10 397.88 L289.53 397.80 L289.97 397.73 L290.40 397.65 L290.84 397.56 L291.27 397.48 L291.71 397.39 L292.14 397.29 L292.58 397.20 L293.01 397.10 L293.45 397.00 L293.88 396.89 L294.32 396.79 L294.75 396.68 L295.19 396.58 L295.62 396.47 L296.06 396.36 L296.49 396.26 L296.93 396.15 L297.36 396.04 L297.80 395.94 L298.23 395.84 L298.67 395.74 L299.10 395.64 L299.54 395.54 L299.97 395.45 L300.41 395.36 L300.84 395.28 L301.28 395.19 L301.71 395.12 L302.15 395.05 L302.58 394.98 L303.02 394.92 L303.45 394.87 L303.89 394.81 L304.32 394.77 L304.76 394.72 L305.19 394.69 L305.63 394.65 L306.06 394.62 L306.49 394.60 L306.93 394.58 L307.36 394.56 L307.80 394.55 L308.23 394.54 L308.67 394.54 L309.10 394.54 L309.54 394.54 L309.97 394.54 L310.41 394.55 L310.84 394.57 L311.28 394.58 L311.71 394.60 L312.15 394.62 L312.58 394.65 L313.02 394.67 L313.45 394.70 L313.89 394.73 L314.32 394.77 L314.76 394.81 L315.19 394.84 L315.63 394.89 L316.06 394.93 L316.50 394.97 L316.93 395.02 L317.37 395.06 L317.80 395.11 L318.24 395.16 L318.67 395.21 L319.11 395.27 L319.54 395.32 L319.98 395.37 L320.41 395.43 L320.85 395.48 L321.28 395.54 L321.72 395.59 L322.15 395.65 L322.59 395.70 L323.02 395.76 L323.46 395.82 L323.89 395.87 L324.33 395.93 L324.76 395.98 L325.20 396.04 L325.63 396.09 L326.07 396.14 L326.50 396.20 L326.94 396.25 L327.37 396.30 L327.81 396.35 L328.24 396.40 L328.68 396.45 L329.11 396.49 L329.55 396.54 L329.98 396.58 L330.41 396.63 L330.85 396.67 L331.28 396.71 L331.72 396.75 L332.15 396.79 L332.59 396.83 L333.02 396.86 L333.46 396.90 L333.89 396.93 L334.33 396.97 L334.76 397.00 L335.20 397.04 L335.63 397.07 L336.07 397.10 L336.50 397.13 L336.94 397.16 L337.37 397.19 L337.81 397.22 L338.24 397.25 L338.68 397.27 L339.11 397.30 L339.55 397.33 L339.98 397.36 L340.42 397.38 L340.85 397.41 L341.29 397.43 L341.72 397.46 L342.16 397.48 L342.59 397.51 L343.03 397.53 L343.46 397.56 L343.90 397.58 L344.33 397.61 L344.77 397.63 L345.20 397.66 L345.64 397.68 L346.07 397.70 L346.51 397.73 L346.94 397.75 L347.38 397.78 L347.81 397.80 L348.25 397.83 L348.68 397.85 L349.12 397.88 L349.55 397.90 L349.99 397.93 L350.42 397.95 L350.86 397.98 L351.29 398.00 L351.73 398.03 L352.16 398.06 L352.60 398.08 L353.03 398.11 L353.46 398.14 L353.90 398.17 L354.33 398.20 L354.77 398.23 L355.20 398.26 L355.64 398.29 L356.07 398.32 L356.51 398.35 L356.94 398.38 L357.38 398.42 L357.81 398.45 L358.25 398.48 L358.68 398.52 L359.12 398.55 L359.55 398.59 L359.99 398.62 L360.42 398.66 L360.86 398.70 L361.29 398.73 L361.73 398.77 L362.16 398.81 L362.60 398.84 L363.03 398.88 L363.47 398.92 L363.90 398.95 L364.34 398.99 L364.77 399.03 L365.21 399.07 L365.64 399.10 L366.08 399.14 L366.51 399.18 L366.95 399.22 L367.38 399.25 L367.82 399.29 L368.25 399.33 L368.69 399.36 L369.12 399.40 L369.56 399.43 L369.99 399.47 L370.43 399.51 L370.86 399.54 L371.30 399.58 L371.73 399.61 L372.17 399.64 L372.60 399.68 L373.04 399.71 L373.47 399.74 L373.91 399.78 L374.34 399.81 L374.78 399.84 L375.21 399.87 L375.65 399.90 L376.08 399.93 L376.52 399.96 L376.95 399.98 L377.38 400.01 L377.82 400.04 L378.25 400.07 L378.69 400.09 L379.12 400.12 L379.56 400.14 L379.99 400.16 L380.43 400.19 L380.86 400.21 L381.30 400.23 L381.73 400.25 L382.17 400.27 L382.60 400.29 L383.04 400.31 L383.47 400.33 L383.91 400.35 L384.34 400.36 L384.78 400.38 L385.21 400.40 L385.65 400.41 L386.08 400.43 L386.52 400.44 L386.95 400.46 L387.39 400.47 L387.82 400.48 L388.26 400.49 L388.69 400.51 L389.13 400.52 L389.56 400.53 L390.00 400.54 L390.43 400.55 L390.87 400.56 L391.30 400.57 L391.74 400.58 L392.17 400.59 L392.61 400.60 L393.04 400.60 L393.48 400.61 L393.91 400.62 L394.35 400.62 L394.78 400.63 L395.22 400.64 L395.65 400.64 L396.09 400.65 L396.52 400.65 L396.96 400.66 L397.39 400.66 L397.83 400.66 L398.26 400.67 L398.70 400.67 L399.13 400.67 L399.57 400.68 L400.00 400.68 L403.39 400.69 L406.78 400.68 L410.16 400.66 L413.55 400.63 L416.94 400.60 L420.33 400.56 L423.72 400.52 L427.11 400.48 L430.49 400.44 L433.88 400.40 L437.27 400.36 L440.66 400.32 L444.05 400.28 L447.43 400.24 L450.82 400.20 L454.21 400.15 L457.60 400.11 L460.99 400.07 L464.37 400.03 L467.76 399.98 L471.15 399.94 L474.54 399.90 L477.93 399.86 L481.32 399.82 L484.70 399.78 L488.09 399.74 L491.48 399.71 L494.87 399.67 L498.26 399.63 L501.64 399.60 L505.03 399.56 L508.42 399.53 L511.81 399.50 L515.20 399.47 L518.58 399.44 L521.97 399.42 L525.36 399.39 L528.75 399.37 L532.14 399.35 L535.53 399.33 L538.91 399.31 L542.30 399.29 L545.69 399.28 L549.08 399.27 L552.47 399.26 L555.85 399.26 L559.24 399.25 L562.63 399.25 L566.02 399.26 L569.41 399.26 L572.79 399.27 L576.18 399.28 L579.57 399.30 L582.96 399.31 L586.35 399.33 L589.74 399.36 L593.12 399.38 L596.51 399.42 L599.90 399.45" stroke="#d62728"/>
<path d="M96.00 55.10 L96.43 66.41 L96.87 77.19 L97.30 87.50 L97.74 97.35 L98.17 106.77 L98.61 115.79 L99.04 124.45 L99.48 132.75 L99.91 140.73 L100.35 148.40 L100.78 155.78 L101.22 162.88 L101.65 169.74 L102.09 176.35 L102.52 182.74 L102.96 188.92 L103.39 194.90 L103.83 200.69 L104.26 206.30 L104.70 211.75 L105.13 217.04 L105.57 222.19 L106.00 227.19 L106.44 232.06 L106.87 236.81 L107.31 241.44 L107.74 245.96 L108.18 250.37 L108.61 254.69 L109.05 258.91 L109.48 263.03 L109.92 267.08 L110.35 271.04 L110.79 274.92 L111.22 278.72 L111.66 282.45 L112.09 286.09 L112.53 289.67 L112.96 293.16 L113.40 296.58 L113.83 299.92 L114.27 303.20 L114.70 306.39 L115.14 309.52 L115.57 312.57 L116.01 315.52 L116.44 318.37 L116.88 321.10 L117.31 323.70 L117.75 326.16 L118.18 328.51 L118.62 330.76 L119.05 332.93 L119.48 335.02 L119.92 337.05 L120.35 339.04 L120.79 340.98 L121.22 342.89 L121.66 344.76 L122.09 346.59 L122.53 348.37 L122.96 350.11 L123.40 351.82 L123.83 353.47 L124.27 355.10 L124.70 356.68 L125.14 358.23 L125.57 359.74 L126.01 361.23 L126.44 362.68 L126.88 364.10 L127.31 365.50 L127.75 366.87 L128.18 368.21 L128.62 369.53 L129.05 370.83 L129.49 372.09 L129.92 373.33 L130.36 374.53 L130.79 375.69 L131.23 376.81 L131.66 377.89 L132.10 378.93 L132.53 379.91 L132.97 380.85 L133.40 381.75 L133.84 382.59 L134.27 383.40 L134.71 384.18 L135.14 384.92 L135.58 385.64 L136.01 386.34 L136.45 387.01 L136.88 387.68 L137.32 388.32 L137.75 388.96 L138.19 389.58 L138.62 390.18 L139.06 390.77 L139.49 391.35 L139.93 391.90 L140.36 392.44 L140.80 392.97 L141.23 393.48 L141.67 393.97 L142.10 394.44 L142.54 394.90 L142.97 395.34 L143.40 395.76 L143.84 396.17 L144.27 396.56 L144.71 396.93 L145.14 397.29 L145.58 397.63 L146.01 397.96 L146.45 398.27 L146.88 398.57 L147.32 398.85 L147.75 399.12 L148.19 399.38 L148.62 399.62 L149.06 399.85 L149.49 400.07 L149.93 400.28 L150.36 400.48 L150.80 400.68 L151.23 400.86 L151.67 401.03 L152.10 401.19 L152.54 401.35 L152.97 401.50 L153.41 401.64 L153.84 401.77 L154.28 401.90 L154.71 402.02 L155.15 402.13 L155.58 402.24 L156.02 402.34 L156.45 402.44 L156.89 402.53 L157.32 402.61 L157.76 402.69 L158.19 402.76 L158.63 402.83 L159.06 402.90 L159.50 402.96 L159.93 403.01 L160.37 403.06 L160.80 403.11 L161.24 403.15 L161.67 403.19 L162.11 403.22 L162.54 403.25 L162.98 403.28 L163.41 403.31 L163.85 403.33 L164.28 403.35 L164.72 403.37 L165.15 403.38 L165.59 403.39 L166.02 403.40 L166.45 403.41 L166.89 403.42 L167.32 403.42 L167.76 403.42 L168.19 403.42 L168.63 403.42 L169.06 403.42 L169.50 403.42 L169.93 403.41 L170.37 403.41 L170.80 403.40 L171.24 403.40 L171.67 403.39 L172.11 403.38 L172.54 403.38 L172.98 403.37 L173.41 403.36 L173.85 403.35 L174.28 403.35 L174.72 403.34 L175.15 403.33 L175.59 403.33 L176.02 403.32 L176.46 403.32 L176.89 403.31 L177.33 403.31 L177.76 403.31 L178.20 403.30 L178.63 403.30 L179.07 403.30 L179.50 403.30 L179.94 403.30 L180.37 403.30 L180.81 403.30 L181.24 403.30 L181.68 403.30 L182.11 403.30 L182.55 403.30 L182.98 403.30 L183.42 403.30 L183.85 403.30 L184.29 403.30 L184.72 403.30 L185.16 403.30 L185.59 403.31 L186.03 403.31 L186.46 403.31 L186.90 403.31 L187.33 403.31 L187.77 403.31 L188.20 403.32 L188.64 403.32 L189.07 403.32 L189.51 403.32 L189.94 403.32 L190.37 403.32 L190.81 403.32 L191.24 403.32 L191.68 403.32 L192.11 403.32 L192.55 403.32 L192.98 403.32 L193.42 403.32 L193.85 403.32 L194.29 403.32 L194.72 403.32 L195.16 403.31 L195.59 403.31 L196.03 403.31 L196.46 403.30 L196.90 403.30 L197.33 403.29 L197.77 403.29 L198.20 403.28 L198.64 403.28 L199.07 403.27 L199.51 403.26 L199.94 403.25 L200.38 403.24 L200.81 403.23 L201.25 403.22 L201.68 403.21 L202.12 403.20 L202.55 403.18 L202.99 403.17 L203.42 403.15 L203.86 403.14 L204.29 403.12 L204.73 403.10 L205.16 403.09 L205.60 403.07 L206.03 403.05 L206.47 403.03 L206.90 403.01 L207.34 402.98 L207.77 402.96 L208.21 402.94 L208.64 402.92 L209.08 402.89 L209.51 402.87 L209.95 402.84 L210.38 402.82 L210.82 402.79 L211.25 402.76 L211.69 402.74 L212.12 402.71 L212.56 402.68 L212.99 402.66 L213.42 402.63 L213.86 402.60 L214.29 402.57 L214.73 402.54 L215.16 402.51 L215.60 402.48 L216.03 402.45 L216.47 402.43 L216.90 402.40 L217.34 402.37 L217.77 402.34 L218.21 402.31 L218.64 402.28 L219.08 402.25 L219.51 402.22 L219.95 402.19 L220.38 402.16 L220.82 402.13 L221.25 402.10 L221.69 402.08 L222.12 402.05 L222.56 402.02 L222.99 401.99 L223.43 401.97 L223.86 401.94 L224.30 401.91 L224.73 401.89 L225.17 401.86 L225.60 401.84 L226.04 401.81 L226.47 401.79 L226.91 401.76 L227.34 401.74 L227.78 401.71 L228.21 401.69 L228.65 401.66 L229.08 401.64 L229.52 401.62 L229.95 401.59 L230.39 401.57 L230.82 401.55 L231.26 401.53 L231.69 401.51 L232.13 401.48 L232.56 401.46 L233.00 401.44 L233.43 401.42 L233.87 401.40 L234.30 401.38 L234.74 401.36 L235.17 401.34 L235.61 401.32 L236.04 401.30 L236.47 401.28 L236.91 401.26 L237.34 401.25 L237.78 401.23 L238.21 401.21 L238.65 401.19 L239.08 401.17 L239.52 401.16 L239.95 401.14 L240.39 401.12 L240.82 401.11 L241.26 401.09 L241.69 401.07 L242.13 401.06 L242.56 401.04 L243.00 401.03 L243.43 401.01 L243.87 401.00 L244.30 400.98 L244.74 400.97 L245.17 400.95 L245.61 400.94 L246.04 400.92 L246.48 400.91 L246.91 400.90 L247.35 400.88 L247.78 400.87 L248.22 400.86 L248.65 400.84 L249.09 400.83 L249.52 400.82 L249.96 400.81 L250.39 400.79 L250.83 400.78 L251.26 400.77 L251.70 400.76 L252.13 400.75 L252.57 400.73 L253.00 400.72 L253.44 400.71 L253.87 400.70 L254.31 400.69 L254.74 400.68 L255.18 400.67 L255.61 400.66 L256.05 400.65 L256.48 400.64 L256.92 400.63 L257.35 400.62 L257.79 400.61 L258.22 400.60 L258.66 400.59 L259.09 400.58 L259.53 400.57 L259.96 400.56 L260.39 400.55 L260.83 400.54 L261.26 400.53 L261.70 400.52 L262.13 400.52 L262.57 400.51 L263.00 400.50 L263.44 400.49 L263.87 400.48 L264.31 400.47 L264.74 400.47 L265.18 400.46 L265.61 400.45 L266.05 400.44 L266.48 400.43 L266.92 400.43 L267.35 400.42 L267.79 400.41 L268.22 400.40 L268.66 400.39 L269.09 400.39 L269.53 400.38 L269.96 400.37 L270.40 400.37 L270.83 400.36 L271.27 400.35 L271.70 400.34 L272.14 400.34 L272.57 400.33 L273.01 400.32 L273.44 400.32 L273.88 400.31 L274.31 400.30 L274.75 400.30 L275.18 400.29 L275.62 400.29 L276.05 400.28 L276.49 400.27 L276.92 400.27 L277.36 400.26 L277.79 400.26 L278.23 400.25 L278.66 400.24 L279.10 400.24 L279.53 400.23 L279.97 400.23 L280.40 400.22 L280.84 400.22 L281.27 400.21 L281.71 400.21 L282.14 400.20 L282.58 400.20 L283.01 400.19 L283.44 400.19 L283.88 400.18 L284.31 400.18 L284.75 400.17 L285.18 400.17 L285.62 400.16 L286.05 400.16 L286.49 400.16 L286.92 400.15 L287.36 400.15 L287.79 400.14 L288.23 400.14 L288.66 400.13 L289.10 400.13 L289.53 400.13 L289.97 400.12 L290.40 400.12 L290.84 400.12 L291.27 400.11 L291.71 400.11 L292.14 400.10 L292.58 400.10 L293.01 400.10 L293.45 400.09 L293.88 400.09 L294.32 400.09 L294.75 400.08 L295.19 400.08 L295.62 400.08 L296.06 400.08 L296.49 400.07 L296.93 400.07 L297.36 400.07 L297.80 400.06 L298.23 400.06 L298.67 400.06 L299.10 400.06 L299.54 400.05 L299.97 400.05 L300.41 400.05 L300.84 400.05 L301.28 400.04 L301.71 400.04 L302.15 400.04 L302.58 400.04 L303.02 400.03 L303.45 400.03 L303.89 400.03 L304.32 400.03 L304.76 400.03 L305.19 400.02 L305.63 400.02 L306.06 400.02 L306.49 400.02 L306.93 400.02 L307.36 400.01 L307.80 400.01 L308.23 400.01 L308.67 400.01 L309.10 400.01 L309.54 400.01 L309.97 400.00 L310.41 400.00 L310.84 400.00 L311.28 400.00 L311.71 400.00 L312.15 400.00 L312.58 400.00 L313.02 400.00 L313.45 399.99 L313.89 399.99 L314.32 399.99 L314.76 399.99 L315.19 399.99 L315.63 399.99 L316.06 399.99 L316.50 399.99 L316.93 399.99 L317.37 399.98 L317.80 399.98 L318.24 399.98 L318.67 399.98 L319.11 399.98 L319.54 399.98 L319.98 399.98 L320.41 399.98 L320.85 399.98 L321.28 399.98 L321.72 399.98 L322.15 399.98 L322.59 399.98 L323.02 399.98 L323.46 399.97 L323.89 399.97 L324.33 399.97 L324.76 399.97 L325.20 399.97 L325.63 399.97 L326.07 399.97 L326.50 399.97 L326.94 399.97 L327.37 399.97 L327.81 399.97 L328.24 399.97 L328.68 399.97 L329.11 399.97 L329.55 399.97 L329.98 399.97 L330.41 399.97 L330.85 399.97 L331.28 399.97 L331.72 399.97 L332.15 399.97 L332.59 399.97 L333.02 399.97 L333.46 399.97 L333.89 399.97 L334.33 399.97 L334.76 399.97 L335.20 399.97 L335.63 399.97 L336.07 399.97 L336.50 399.97 L336.94 399.97 L337.37 399.97 L337.81 399.97 L338.24 399.97 L338.68 399.97 L339.11 399.97 L339.55 399.96 L339.98 399.96 L340.42 399.96 L340.85 399.96 L341.29 399.96 L341.72 399.96 L342.16 399.96 L342.59 399.96 L343.03 399.96 L343.46 399.96 L343.90 399.96 L344.33 399.96 L344.77 399.96 L345.20 399.96 L345.64 399.96 L346.07 399.96 L346.51 399.96 L346.94 399.96 L347.38 399.96 L347.81 399.96 L348.25 399.96 L348.68 399.96 L349.12 399.96 L349.55 399.96 L349.99 399.96 L350.42 399.96 L350.86 399.96 L351.29 399.96 L351.73 399.96 L352.16 399.96 L352.60 399.96 L353.03 399.96 L353.46 399.96 L353.90 399.96 L354.33 399.96 L354.77 399.96 L355.20 399.96 L355.64 399.96 L356.07 399.96 L356.51 399.96 L356.94 399.96 L357.38 399.96 L357.81 399.96 L358.25 399.95 L358.68 399.95 L359.12 399.95 L359.55 399.95 L359.99 399.95 L360.42 399.95 L360.86 399.95 L361.29 399.95 L361.73 399.95 L362.16 399.95 L362.60 399.95 L363.03 399.95 L363.47 399.95 L363.90 399.95 L364.34 399.95 L364.77 399.95 L365.21 399.95 L365.64 399.95 L366.08 399.94 L366.51 399.94 L366.95 399.94 L367.38 399.94 L367.82 399.94 L368.25 399.94 L368.69 399.94 L369.12 399.94 L369.56 399.94 L369.99 399.94 L370.43 399.94 L370.86 399.94 L371.30 399.94 L371.73 399.94 L372.17 399.93 L372.60 399.93 L373.04 399.93 L373.47 399.93 L373.91 399.93 L374.34 399.93 L374.78 399.93 L375.21 399.93 L375.65 399.93 L376.08 399.93 L376.52 399.93 L376.95 399.93 L377.38 399.92 L377.82 399.92 L378.25 399.92 L378.69 399.92 L379.12 399.92 L379.56 399.92 L379.99 399.92 L380.43 399.92 L380.86 399.92 L381.30 399.92 L381.73 399.91 L382.17 399.91 L382.60 399.91 L383.04 399.91 L383.47 399.91 L383.91 399.91 L384.34 399.91 L384.78 399.91 L385.21 399.91 L385.65 399.91 L386.08 399.90 L386.52 399.90 L386.95 399.90 L387.39 399.90 L387.82 399.90 L388.26 399.90 L388.69 399.90 L389.13 399.90 L389.56 399.90 L390.00 399.89 L390.43 399.89 L390.87 399.89 L391.30 399.89 L391.74 399.89 L392.17 399.89 L392.61 399.89 L393.04 399.89 L393.48 399.88 L393.91 399.88 L394.35 399.88 L394.78 399.88 L395.22 399.88 L395.65 399.88 L396.09 399.88 L396.52 399.88 L396.96 399.88 L397.39 399.87 L397.83 399.87 L398.26 399.87 L398.70 399.87 L399.13 399.87 L399.57 399.87 L400.00 399.87 L403.39 399.86 L406.78 399.85 L410.16 399.83 L413.55 399.82 L416.94 399.81 L420.33 399.80 L423.72 399.79 L427.11 399.77 L430.49 399.76 L433.88 399.75 L437.27 399.74 L440.66 399.72 L444.05 399.71 L447.43 399.70 L450.82 399.68 L454.21 399.67 L457.60 399.66 L460.99 399.64 L464.37 399.63 L467.76 399.62 L471.15 399.61 L474.54 399.59 L477.93 399.58 L481.32 399.57 L484.70 399.56 L488.09 399.54 L491.48 399.53 L494.87 399.52 L498.26 399.51 L501.64 399.50 L505.03 399.49 L508.42 399.48 L511.81 399.47 L515.20 399.46 L518.58 399.45 L521.97 399.44 L525.36 399.44 L528.75 399.43 L532.14 399.42 L535.53 399.42 L538.91 399.41 L542.30 399.41 L545.69 399.40 L549.08 399.40 L552.47 399.40 L555.85 399.40 L559.24 399.40 L562.63 399.40 L566.02 399.40 L569.41 399.40 L572.79 399.40 L576.18 399.41 L579.57 399.41 L582.96 399.42 L586.35 399.42 L589.74 399.43 L593.12 399.44 L596.51 399.45 L599.90 399.46" stroke="#9467bd"/>
<path d="M96.00 339.79 L96.43 341.22 L96.87 342.60 L97.30 343.92 L97.74 345.19 L98.17 346.41 L98.61 347.58 L99.04 348.71 L99.48 349.80 L99.91 350.85 L100.35 351.87 L100.78 352.85 L101.22 353.80 L101.65 354.73 L102.09 355.62 L102.52 356.50 L102.96 357.34 L103.39 358.17 L103.83 358.98 L104.26 359.77 L104.70 360.54 L105.13 361.29 L105.57 362.03 L106.00 362.76 L106.44 363.47 L106.87 364.18 L107.31 364.87 L107.74 365.55 L108.18 366.23 L108.61 366.90 L109.05 367.56 L109.48 368.21 L109.92 368.85 L110.35 369.48 L110.79 370.10 L111.22 370.72 L111.66 371.32 L112.09 371.92 L112.53 372.51 L112.96 373.09 L113.40 373.66 L113.83 374.22 L114.27 374.78 L114.70 375.32 L115.14 375.86 L115.57 376.39 L116.01 376.91 L116.44 377.42 L116.88 377.92 L117.31 378.41 L117.75 378.90 L118.18 379.38 L118.62 379.85 L119.05 380.31 L119.48 380.76 L119.92 381.21 L120.35 381.66 L120.79 382.11 L121.22 382.57 L121.66 383.03 L122.09 383.49 L122.53 383.96 L122.96 384.45 L123.40 384.94 L123.83 385.45 L124.27 385.97 L124.70 386.50 L125.14 387.05 L125.57 387.61 L126.01 388.19 L126.44 388.78 L126.88 389.39 L127.31 390.00 L127.75 390.63 L128.18 391.25 L128.62 391.88 L129.05 392.51 L129.49 393.13 L129.92 393.75 L130.36 394.36 L130.79 394.97 L131.23 395.56 L131.66 396.14 L132.10 396.71 L132.53 397.26 L132.97 397.80 L133.40 398.32 L133.84 398.82 L134.27 399.29 L134.71 399.71 L135.14 400.09 L135.58 400.43 L136.01 400.70 L136.45 400.92 L136.88 401.09 L137.32 401.20 L137.75 401.28 L138.19 401.31 L138.62 401.31 L139.06 401.28 L139.49 401.21 L139.93 401.11 L140.36 400.99 L140.80 400.84 L141.23 400.67 L141.67 400.48 L142.10 400.26 L142.54 400.03 L142.97 399.79 L143.40 399.53 L143.84 399.26 L144.27 398.98 L144.71 398.70 L145.14 398.42 L145.58 398.14 L146.01 397.86 L146.45 397.59 L146.88 397.32 L147.32 397.05 L147.75 396.79 L148.19 396.53 L148.62 396.27 L149.06 396.02 L149.49 395.77 L149.93 395.52 L150.36 395.28 L150.80 395.05 L151.23 394.82 L151.67 394.59 L152.10 394.37 L152.54 394.15 L152.97 393.94 L153.41 393.73 L153.84 393.52 L154.28 393.33 L154.71 393.13 L155.15 392.94 L155.58 392.76 L156.02 392.58 L156.45 392.40 L156.89 392.23 L157.32 392.07 L157.76 391.91 L158.19 391.75 L158.63 391.60 L159.06 391.45 L159.50 391.30 L159.93 391.16 L160.37 391.02 L160.80 390.89 L161.24 390.76 L161.67 390.63 L162.11 390.50 L162.54 390.38 L162.98 390.27 L163.41 390.15 L163.85 390.04 L164.28 389.94 L164.72 389.83 L165.15 389.73 L165.59 389.63 L166.02 389.54 L166.45 389.45 L166.89 389.36 L167.32 389.27 L167.76 389.19 L168.19 389.11 L168.63 389.03 L169.06 388.95 L169.50 388.88 L169.93 388.80 L170.37 388.73 L170.80 388.66 L171.24 388.60 L171.67 388.53 L172.11 388.47 L172.54 388.41 L172.98 388.35 L173.41 388.29 L173.85 388.23 L174.28 388.17 L174.72 388.11 L175.15 388.06 L175.59 388.00 L176.02 387.94 L176.46 387.89 L176.89 387.83 L177.33 387.78 L177.76 387.72 L178.20 387.67 L178.63 387.61 L179.07 387.56 L179.50 387.50 L179.94 387.44 L180.37 387.39 L180.81 387.33 L181.24 387.27 L181.68 387.22 L182.11 387.16 L182.55 387.11 L182.98 387.05 L183.42 387.00 L183.85 386.95 L184.29 386.89 L184.72 386.84 L185.16 386.79 L185.59 386.74 L186.03 386.70 L186.46 386.65 L186.90 386.60 L187.33 386.56 L187.77 386.52 L188.20 386.48 L188.64 386.44 L189.07 386.41 L189.51 386.37 L189.94 386.34 L190.37 386.31 L190.81 386.28 L191.24 386.26 L191.68 386.24 L192.11 386.22 L192.55 386.20 L192.98 386.19 L193.42 386.18 L193.85 386.17 L194.29 386.17 L194.72 386.17 L195.16 386.17 L195.59 386.18 L196.03 386.19 L196.46 386.20 L196.90 386.22 L197.33 386.24 L197.77 386.27 L198.20 386.29 L198.64 386.32 L199.07 386.36 L199.51 386.40 L199.94 386.44 L200.38 386.48 L200.81 386.52 L201.25 386.57 L201.68 386.62 L202.12 386.67 L202.55 386.72 L202.99 386.78 L203.42 386.84 L203.86 386.90 L204.29 386.95 L204.73 387.02 L205.16 387.08 L205.60 387.14 L206.03 387.21 L206.47 387.27 L206.90 387.34 L207.34 387.40 L207.77 387.47 L208.21 387.53 L208.64 387.60 L209.08 387.67 L209.51 387.73 L209.95 387.80 L210.38 387.86 L210.82 387.93 L211.25 387.99 L211.69 388.06 L212.12 388.12 L212.56 388.18 L212.99 388.24 L213.42 388.30 L213.86 388.36 L214.29 388.42 L214.73 388.48 L215.16 388.53 L215.60 388.58 L216.03 388.63 L216.47 388.68 L216.90 388.73 L217.34 388.78 L217.77 388.83 L218.21 388.88 L218.64 388.93 L219.08 388.98 L219.51 389.03 L219.95 389.08 L220.38 389.13 L220.82 389.19 L221.25 389.24 L221.69 389.30 L222.12 389.36 L222.56 389.42 L222.99 389.49 L223.43 389.56 L223.86 389.63 L224.30 389.70 L224.73 389.78 L225.17 389.86 L225.60 389.94 L226.04 390.03 L226.47 390.13 L226.91 390.22 L227.34 390.33 L227.78 390.43 L228.21 390.55 L228.65 390.66 L229.08 390.79 L229.52 390.91 L229.95 391.05 L230.39 391.18 L230.82 391.33 L231.26 391.48 L231.69 391.63 L232.13 391.78 L232.56 391.94 L233.00 392.10 L233.43 392.27 L233.87 392.43 L234.30 392.60 L234.74 392.77 L235.17 392.93 L235.61 393.10 L236.04 393.27 L236.47 393.44 L236.91 393.60 L237.34 393.77 L237.78 393.93 L238.21 394.09 L238.65 394.25 L239.08 394.40 L239.52 394.56 L239.95 394.71 L240.39 394.85 L240.82 394.99 L241.26 395.13 L241.69 395.27 L242.13 395.40 L242.56 395.52 L243.00 395.64 L243.43 395.76 L243.87 395.87 L244.30 395.97 L244.74 396.07 L245.17 396.17 L245.61 396.25 L246.04 396.34 L246.48 396.41 L246.91 396.48 L247.35 396.54 L247.78 396.59 L248.22 396.64 L248.65 396.68 L249.09 396.71 L249.52 396.74 L249.96 396.76 L250.39 396.77 L250.83 396.77 L251.26 396.77 L251.70 396.76 L252.13 396.74 L252.57 396.72 L253.00 396.69 L253.44 396.66 L253.87 396.62 L254.31 396.57 L254.74 396.52 L255.18 396.47 L255.61 396.41 L256.05 396.34 L256.48 396.27 L256.92 396.20 L257.35 396.12 L257.79 396.04 L258.22 395.95 L258.66 395.86 L259.09 395.76 L259.53 395.66 L259.96 395.56 L260.39 395.46 L260.83 395.35 L261.26 395.24 L261.70 395.13 L262.13 395.02 L262.57 394.91 L263.00 394.79 L263.44 394.68 L263.87 394.57 L264.31 394.45 L264.74 394.34 L265.18 394.23 L265.61 394.12 L266.05 394.01 L266.48 393.91 L266.92 393.81 L267.35 393.71 L267.79 393.62 L268.22 393.53 L268.66 393.45 L269.09 393.37 L269.53 393.29 L269.96 393.22 L270.40 393.15 L270.83 393.09 L271.27 393.03 L271.70 392.97 L272.14 392.92 L272.57 392.87 L273.01 392.82 L273.44 392.78 L273.88 392.74 L274.31 392.70 L274.75 392.67 L275.18 392.63 L275.62 392.60 L276.05 392.58 L276.49 392.55 L276.92 392.53 L277.36 392.51 L277.79 392.49 L278.23 392.47 L278.66 392.45 L279.10 392.44 L279.53 392.42 L279.97 392.41 L280.40 392.40 L280.84 392.38 L281.27 392.37 L281.71 392.36 L282.14 392.35 L282.58 392.34 L283.01 392.33 L283.44 392.32 L283.88 392.31 L284.31 392.29 L284.75 392.28 L285.18 392.27 L285.62 392.25 L286.05 392.23 L286.49 392.22 L286.92 392.20 L287.36 392.18 L287.79 392.16 L288.23 392.14 L288.66 392.12 L289.10 392.10 L289.53 392.07 L289.97 392.05 L290.40 392.03 L290.84 392.00 L291.27 391.98 L291.71 391.95 L292.14 391.93 L292.58 391.91 L293.01 391.88 L293.45 391.86 L293.88 391.83 L294.32 391.81 L294.75 391.79 L295.19 391.77 L295.62 391.75 L296.06 391.73 L296.49 391.71 L296.93 391.69 L297.36 391.67 L297.80 391.66 L298.23 391.64 L298.67 391.63 L299.10 391.62 L299.54 391.61 L299.97 391.60 L300.41 391.59 L300.84 391.59 L301.28 391.58 L301.71 391.58 L302.15 391.58 L302.58 391.59 L303.02 391.59 L303.45 391.60 L303.89 391.61 L304.32 391.62 L304.76 391.63 L305.19 391.64 L305.63 391.66 L306.06 391.68 L306.49 391.70 L306.93 391.72 L307.36 391.74 L307.80 391.76 L308.23 391.79 L308.67 391.81 L309.10 391.84 L309.54 391.87 L309.97 391.90 L310.41 391.93 L310.84 391.97 L311.28 392.00 L311.71 392.04 L312.15 392.07 L312.58 392.11 L313.02 392.15 L313.45 392.19 L313.89 392.23 L314.32 392.27 L314.76 392.31 L315.19 392.36 L315.63 392.40 L316.06 392.45 L316.50 392.49 L316.93 392.54 L317.37 392.59 L317.80 392.63 L318.24 392.68 L318.67 392.73 L319.11 392.78 L319.54 392.83 L319.98 392.88 L320.41 392.93 L320.85 392.98 L321.28 393.03 L321.72 393.09 L322.15 393.14 L322.59 393.19 L323.02 393.24 L323.46 393.30 L323.89 393.35 L324.33 393.40 L324.76 393.46 L325.20 393.51 L325.63 393.56 L326.07 393.62 L326.50 393.67 L326.94 393.72 L327.37 393.78 L327.81 393.83 L328.24 393.88 L328.68 393.93 L329.11 393.99 L329.55 394.04 L329.98 394.09 L330.41 394.14 L330.85 394.20 L331.28 394.25 L331.72 394.30 L332.15 394.35 L332.59 394.40 L333.02 394.45 L333.46 394.50 L333.89 394.55 L334.33 394.60 L334.76 394.65 L335.20 394.70 L335.63 394.75 L336.07 394.79 L336.50 394.84 L336.94 394.89 L337.37 394.94 L337.81 394.98 L338.24 395.03 L338.68 395.08 L339.11 395.12 L339.55 395.17 L339.98 395.21 L340.42 395.26 L340.85 395.30 L341.29 395.35 L341.72 395.39 L342.16 395.43 L342.59 395.47 L343.03 395.52 L343.46 395.56 L343.90 395.60 L344.33 395.64 L344.77 395.68 L345.20 395.72 L345.64 395.76 L346.07 395.80 L346.51 395.84 L346.94 395.88 L347.38 395.92 L347.81 395.95 L348.25 395.99 L348.68 396.03 L349.12 396.06 L349.55 396.10 L349.99 396.13 L350.42 396.17 L350.86 396.20 L351.29 396.24 L351.73 396.27 L352.16 396.31 L352.60 396.34 L353.03 396.37 L353.46 396.40 L353.90 396.43 L354.33 396.47 L354.77 396.50 L355.20 396.53 L355.64 396.56 L356.07 396.59 L356.51 396.62 L356.94 396.65 L357.38 396.68 L357.81 396.71 L358.25 396.74 L358.68 396.76 L359.12 396.79 L359.55 396.82 L359.99 396.85 L360.42 396.88 L360.86 396.90 L361.29 396.93 L361.73 396.96 L362.16 396.98 L362.60 397.01 L363.03 397.04 L363.47 397.06 L363.90 397.09 L364.34 397.11 L364.77 397.14 L365.21 397.16 L365.64 397.19 L366.08 397.21 L366.51 397.24 L366.95 397.26 L367.38 397.29 L367.82 397.31 L368.25 397.33 L368.69 397.36 L369.12 397.38 L369.56 397.40 L369.99 397.43 L370.43 397.45 L370.86 397.47 L371.30 397.50 L371.73 397.52 L372.17 397.54 L372.60 397.56 L373.04 397.58 L373.47 397.60 L373.91 397.63 L374.34 397.65 L374.78 397.67 L375.21 397.69 L375.65 397.71 L376.08 397.73 L376.52 397.75 L376.95 397.77 L377.38 397.79 L377.82 397.81 L378.25 397.83 L378.69 397.85 L379.12 397.87 L379.56 397.89 L379.99 397.91 L380.43 397.93 L380.86 397.95 L381.30 397.97 L381.73 397.98 L382.17 398.00 L382.60 398.02 L383.04 398.04 L383.47 398.06 L383.91 398.07 L384.34 398.09 L384.78 398.11 L385.21 398.13 L385.65 398.14 L386.08 398.16 L386.52 398.18 L386.95 398.20 L387.39 398.21 L387.82 398.23 L388.26 398.24 L388.69 398.26 L389.13 398.28 L389.56 398.29 L390.00 398.31 L390.43 398.32 L390.87 398.34 L391.30 398.35 L391.74 398.37 L392.17 398.39 L392.61 398.40 L393.04 398.42 L393.48 398.43 L393.91 398.44 L394.35 398.46 L394.78 398.47 L395.22 398.49 L395.65 398.50 L396.09 398.52 L396.52 398.53 L396.96 398.54 L397.39 398.56 L397.83 398.57 L398.26 398.58 L398.70 398.60 L399.13 398.61 L399.57 398.62 L400.00 398.64 L403.39 398.73 L406.78 398.82 L410.16 398.90 L413.55 398.98 L416.94 399.05 L420.33 399.12 L423.72 399.17 L427.11 399.23 L430.49 399.28 L433.88 399.32 L437.27 399.36 L440.66 399.40 L444.05 399.43 L447.43 399.46 L450.82 399.48 L454.21 399.50 L457.60 399.52 L460.99 399.53 L464.37 399.54 L467.76 399.55 L471.15 399.56 L474.54 399.56 L477.93 399.56 L481.32 399.56 L484.70 399.56 L488.09 399.55 L491.48 399.54 L494.87 399.54 L498.26 399.53 L501.64 399.52 L505.03 399.50 L508.42 399.49 L511.81 399.48 L515.20 399.46 L518.58 399.45 L521.97 399.44 L525.36 399.42 L528.75 399.41 L532.14 399.39 L535.53 399.38 L538.91 399.37 L542.30 399.35 L545.69 399.34 L549.08 399.33 L552.47 399.32 L555.85 399.32 L559.24 399.31 L562.63 399.31 L566.02 399.31 L569.41 399.31 L572.79 399.31 L576.18 399.32 L579.57 399.32 L582.96 399.33 L586.35 399.35 L589.74 399.37 L593.12 399.39 L596.51 399.41 L599.90 399.44" stroke="#8c564b"/>
</g>
<g stroke="#000" stroke-width="1.11" fill="none" stroke-linecap="square">
<rect x="71.50" y="37.50" width="554.00" height="384.00"/>
</g>
<g stroke="#000" stroke-width="1.11" fill="none" stroke-linecap="butt">
<line x1="142.5" y1="421.5" x2="142.5" y2="426.9"/>
<line x1="233.5" y1="421.5" x2="233.5" y2="426.9"/>
<line x1="325.5" y1="421.5" x2="325.5" y2="426.9"/>
<line x1="417.5" y1="421.5" x2="417.5" y2="426.9"/>
<line x1="508.5" y1="421.5" x2="508.5" y2="426.9"/>
<line x1="600.5" y1="421.5" x2="600.5" y2="426.9"/>
<line x1="71.5" y1="400.5" x2="66.1" y2="400.5"/>
<line x1="71.5" y1="356.5" x2="66.1" y2="356.5"/>
<line x1="71.5" y1="311.5" x2="66.1" y2="311.5"/>
<line x1="71.5" y1="267.5" x2="66.1" y2="267.5"/>
<line x1="71.5" y1="223.5" x2="66.1" y2="223.5"/>
<line x1="71.5" y1="179.5" x2="66.1" y2="179.5"/>
<line x1="71.5" y1="135.5" x2="66.1" y2="135.5"/>
<line x1="71.5" y1="91.5" x2="66.1" y2="91.5"/>
<line x1="71.5" y1="47.5" x2="66.1" y2="47.5"/>
</g>
<g font-size="13.89px">
<text x="142.60" y="441.80" text-anchor="middle">1</text>
<text x="233.35" y="441.80" text-anchor="middle">2</text>
<text x="325.40" y="441.80" text-anchor="middle">3</text>
<text x="417.30" y="441.80" text-anchor="middle">4</text>
<text x="508.30" y="441.80" text-anchor="middle">5</text>
<text x="599.40" y="441.80" text-anchor="middle">6</text>
<text x="61.45" y="405.00" text-anchor="end" letter-spacing="-0.50">0</text>
<text x="61.10" y="361.00" text-anchor="end" letter-spacing="-0.50">20</text>
<text x="59.60" y="316.70" text-anchor="end" letter-spacing="-1.20">40</text>
<text x="60.80" y="272.90" text-anchor="end" letter-spacing="0.00">60</text>
<text x="60.80" y="228.90" text-anchor="end" letter-spacing="0.00">80</text>
<text x="59.85" y="184.90" text-anchor="end" letter-spacing="-0.50">100</text>
<text x="59.80" y="140.00" text-anchor="end" letter-spacing="-0.50">120</text>
<text x="59.80" y="96.00" text-anchor="end" letter-spacing="-0.50">140</text>
<text x="59.80" y="52.00" text-anchor="end" letter-spacing="-0.50">160</text>
<text x="347.60" y="462.10" text-anchor="middle">Distance (Å)</text>
<text transform="translate(24.80 230.00) rotate(-90)" text-anchor="middle">Energy (eV)</text>
</g>
<text x="348.15" y="28.90" text-anchor="middle" font-size="16.6px">Dimer curves - with ZBL</text>
<rect x="541.40" y="44.70" width="76.90" height="129.60" rx="2.8" ry="2.8" fill="#fff" fill-opacity="0.8" stroke="#ccc" stroke-opacity="0.8" stroke-width="1.39"/>
<g font-size="13.89px">
<line x1="546.20" y1="56.00" x2="574.00" y2="56.00" stroke="#1f77b4" stroke-width="2.083" stroke-linecap="square"/>
<text x="584.90" y="60.90" letter-spacing="-0.65">H-H</text>
<line x1="546.20" y1="77.00" x2="574.00" y2="77.00" stroke="#ff7f0e" stroke-width="2.083" stroke-linecap="square"/>
<text x="584.90" y="81.90" letter-spacing="-0.65">H-C</text>
<line x1="546.20" y1="98.00" x2="574.00" y2="98.00" stroke="#2ca02c" stroke-width="2.083" stroke-linecap="square"/>
<text x="585.90" y="102.90" letter-spacing="-0.65">C-C</text>
<line x1="546.20" y1="119.00" x2="574.00" y2="119.00" stroke="#d62728" stroke-width="2.083" stroke-linecap="square"/>
<text x="585.90" y="123.90" letter-spacing="-0.65">C-O</text>
<line x1="546.20" y1="140.00" x2="574.00" y2="140.00" stroke="#9467bd" stroke-width="2.083" stroke-linecap="square"/>
<text x="585.90" y="144.90" letter-spacing="-0.65">O-O</text>
<line x1="546.20" y1="161.00" x2="574.00" y2="161.00" stroke="#8c564b" stroke-width="2.083" stroke-linecap="square"/>
<text x="584.90" y="165.90" letter-spacing="-0.65">H-O</text>
</g>
</svg></body></html>
